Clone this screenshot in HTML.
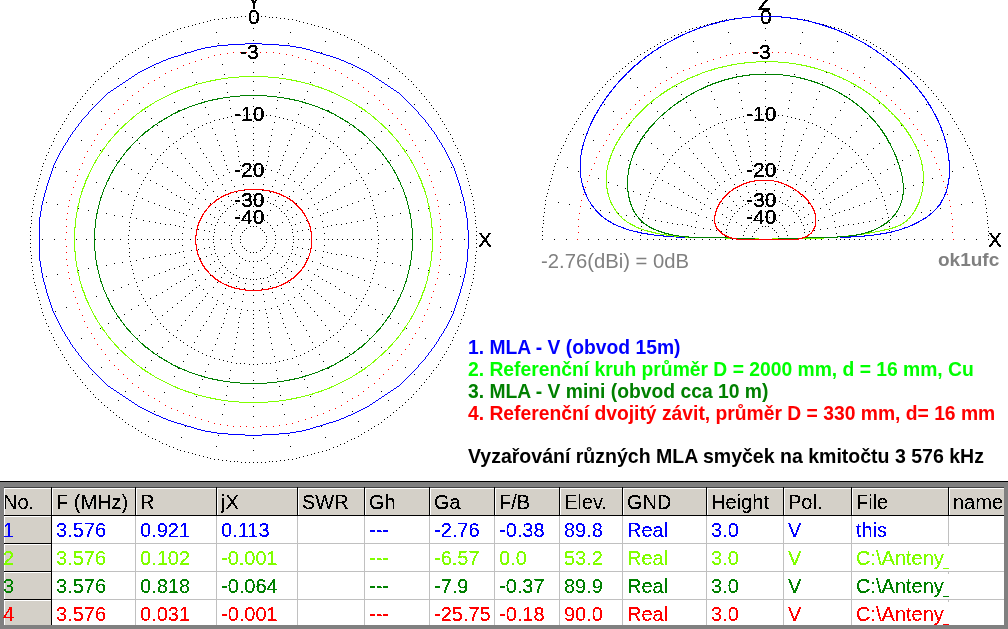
<!DOCTYPE html>
<html><head><meta charset="utf-8"><title>MLA</title>
<style>
html,body{margin:0;padding:0;background:#fff;}
body{width:1008px;height:629px;overflow:hidden;position:relative;font-family:"Liberation Sans",Arial,sans-serif;}
#tb div{position:absolute;}
.t{position:absolute;height:27px;font-size:20px;line-height:27px;white-space:nowrap;overflow:hidden;-webkit-text-stroke:0.1px currentColor;filter:url(#al);}
.lg{position:absolute;font-size:19.3px;font-weight:bold;line-height:22px;white-space:nowrap;}
svg{position:absolute;left:0;top:0;}
</style></head><body>
<svg width="1008" height="629" viewBox="0 0 1008 629">
<defs><filter id="al" x="0" y="0" width="100%" height="100%"><feComponentTransfer><feFuncA type="discrete" tableValues="0 1"/></feComponentTransfer></filter></defs>
<g shape-rendering="crispEdges">
<path fill="#000" d="M241 16h1v1h-1zM245 16h1v1h-1zM249 16h1v1h-1zM253 16h1v1h-1zM257 16h1v1h-1zM261 16h1v1h-1zM265 16h1v1h-1zM753 16h1v1h-1zM757 16h1v1h-1zM761 16h1v1h-1zM765 16h1v1h-1zM769 16h1v1h-1zM773 16h1v1h-1zM777 16h1v1h-1zM230 17h1v1h-1zM234 17h1v1h-1zM237 17h1v1h-1zM269 17h1v1h-1zM272 17h1v1h-1zM276 17h1v1h-1zM742 17h1v1h-1zM746 17h1v1h-1zM749 17h1v1h-1zM781 17h1v1h-1zM784 17h1v1h-1zM788 17h1v1h-1zM222 18h1v1h-1zM226 18h1v1h-1zM280 18h1v1h-1zM284 18h1v1h-1zM734 18h1v1h-1zM738 18h1v1h-1zM792 18h1v1h-1zM796 18h1v1h-1zM214 19h1v1h-1zM218 19h1v1h-1zM288 19h1v1h-1zM292 19h1v1h-1zM726 19h1v1h-1zM730 19h1v1h-1zM800 19h1v1h-1zM804 19h1v1h-1zM210 20h1v1h-1zM296 20h1v1h-1zM722 20h1v1h-1zM808 20h1v1h-1zM207 21h1v1h-1zM299 21h1v1h-1zM719 21h1v1h-1zM811 21h1v1h-1zM203 22h1v1h-1zM303 22h1v1h-1zM715 22h1v1h-1zM815 22h1v1h-1zM199 23h1v1h-1zM307 23h1v1h-1zM711 23h1v1h-1zM819 23h1v1h-1zM195 24h1v1h-1zM311 24h1v1h-1zM707 24h1v1h-1zM823 24h1v1h-1zM192 25h1v1h-1zM314 25h1v1h-1zM704 25h1v1h-1zM826 25h1v1h-1zM188 26h1v1h-1zM318 26h1v1h-1zM700 26h1v1h-1zM830 26h1v1h-1zM184 27h1v1h-1zM322 27h1v1h-1zM696 27h1v1h-1zM834 27h1v1h-1zM180 28h1v1h-1zM253 28h1v1h-1zM326 28h1v1h-1zM692 28h1v1h-1zM765 28h1v1h-1zM838 28h1v1h-1zM177 29h1v1h-1zM329 29h1v1h-1zM689 29h1v1h-1zM841 29h1v1h-1zM173 31h1v1h-1zM333 31h1v1h-1zM685 31h1v1h-1zM845 31h1v1h-1zM169 32h1v1h-1zM216 32h1v1h-1zM290 32h1v1h-1zM337 32h1v1h-1zM681 32h1v1h-1zM728 32h1v1h-1zM802 32h1v1h-1zM849 32h1v1h-1zM166 34h1v1h-1zM340 34h1v1h-1zM678 34h1v1h-1zM852 34h1v1h-1zM162 35h1v1h-1zM344 35h1v1h-1zM674 35h1v1h-1zM856 35h1v1h-1zM159 37h1v1h-1zM347 37h1v1h-1zM671 37h1v1h-1zM859 37h1v1h-1zM155 39h1v1h-1zM351 39h1v1h-1zM667 39h1v1h-1zM863 39h1v1h-1zM152 40h1v1h-1zM253 40h1v1h-1zM354 40h1v1h-1zM664 40h1v1h-1zM765 40h1v1h-1zM866 40h1v1h-1zM181 41h1v1h-1zM325 41h1v1h-1zM693 41h1v1h-1zM837 41h1v1h-1zM148 42h1v1h-1zM358 42h1v1h-1zM660 42h1v1h-1zM870 42h1v1h-1zM218 43h1v1h-1zM288 43h1v1h-1zM730 43h1v1h-1zM800 43h1v1h-1zM145 44h1v1h-1zM361 44h1v1h-1zM657 44h1v1h-1zM873 44h1v1h-1zM142 46h1v1h-1zM364 46h1v1h-1zM654 46h1v1h-1zM876 46h1v1h-1zM138 48h1v1h-1zM368 48h1v1h-1zM650 48h1v1h-1zM880 48h1v1h-1zM135 50h1v1h-1zM371 50h1v1h-1zM647 50h1v1h-1zM883 50h1v1h-1zM132 52h1v1h-1zM185 52h1v1h-1zM321 52h1v1h-1zM374 52h1v1h-1zM644 52h1v1h-1zM697 52h1v1h-1zM833 52h1v1h-1zM886 52h1v1h-1zM128 54h1v1h-1zM378 54h1v1h-1zM640 54h1v1h-1zM890 54h1v1h-1zM125 56h1v1h-1zM381 56h1v1h-1zM637 56h1v1h-1zM893 56h1v1h-1zM148 57h1v1h-1zM358 57h1v1h-1zM660 57h1v1h-1zM870 57h1v1h-1zM122 59h1v1h-1zM384 59h1v1h-1zM634 59h1v1h-1zM896 59h1v1h-1zM119 61h1v1h-1zM387 61h1v1h-1zM631 61h1v1h-1zM899 61h1v1h-1zM253 62h1v1h-1zM765 62h1v1h-1zM116 63h1v1h-1zM390 63h1v1h-1zM628 63h1v1h-1zM902 63h1v1h-1zM222 64h1v1h-1zM284 64h1v1h-1zM734 64h1v1h-1zM796 64h1v1h-1zM113 66h1v1h-1zM393 66h1v1h-1zM625 66h1v1h-1zM905 66h1v1h-1zM154 67h1v1h-1zM352 67h1v1h-1zM666 67h1v1h-1zM864 67h1v1h-1zM110 68h1v1h-1zM396 68h1v1h-1zM622 68h1v1h-1zM908 68h1v1h-1zM107 71h1v1h-1zM399 71h1v1h-1zM619 71h1v1h-1zM911 71h1v1h-1zM192 72h1v1h-1zM253 72h1v1h-1zM314 72h1v1h-1zM704 72h1v1h-1zM765 72h1v1h-1zM826 72h1v1h-1zM104 73h1v1h-1zM402 73h1v1h-1zM616 73h1v1h-1zM914 73h1v1h-1zM224 74h1v1h-1zM282 74h1v1h-1zM736 74h1v1h-1zM794 74h1v1h-1zM101 76h1v1h-1zM405 76h1v1h-1zM613 76h1v1h-1zM917 76h1v1h-1zM118 78h1v1h-1zM388 78h1v1h-1zM630 78h1v1h-1zM900 78h1v1h-1zM98 79h1v1h-1zM408 79h1v1h-1zM610 79h1v1h-1zM920 79h1v1h-1zM95 81h1v1h-1zM253 81h1v1h-1zM411 81h1v1h-1zM607 81h1v1h-1zM765 81h1v1h-1zM923 81h1v1h-1zM196 82h1v1h-1zM310 82h1v1h-1zM708 82h1v1h-1zM822 82h1v1h-1zM226 83h1v1h-1zM280 83h1v1h-1zM738 83h1v1h-1zM792 83h1v1h-1zM93 84h1v1h-1zM413 84h1v1h-1zM605 84h1v1h-1zM925 84h1v1h-1zM164 86h1v1h-1zM342 86h1v1h-1zM676 86h1v1h-1zM854 86h1v1h-1zM90 87h1v1h-1zM125 87h1v1h-1zM381 87h1v1h-1zM416 87h1v1h-1zM602 87h1v1h-1zM637 87h1v1h-1zM893 87h1v1h-1zM928 87h1v1h-1zM87 90h1v1h-1zM253 90h1v1h-1zM419 90h1v1h-1zM599 90h1v1h-1zM765 90h1v1h-1zM931 90h1v1h-1zM199 91h1v1h-1zM307 91h1v1h-1zM711 91h1v1h-1zM819 91h1v1h-1zM227 92h1v1h-1zM279 92h1v1h-1zM739 92h1v1h-1zM791 92h1v1h-1zM85 93h1v1h-1zM421 93h1v1h-1zM597 93h1v1h-1zM933 93h1v1h-1zM169 94h1v1h-1zM337 94h1v1h-1zM681 94h1v1h-1zM849 94h1v1h-1zM82 96h1v1h-1zM424 96h1v1h-1zM594 96h1v1h-1zM936 96h1v1h-1zM253 98h1v1h-1zM765 98h1v1h-1zM80 99h1v1h-1zM202 99h1v1h-1zM304 99h1v1h-1zM426 99h1v1h-1zM592 99h1v1h-1zM714 99h1v1h-1zM816 99h1v1h-1zM938 99h1v1h-1zM229 100h1v1h-1zM277 100h1v1h-1zM741 100h1v1h-1zM789 100h1v1h-1zM77 102h1v1h-1zM174 102h1v1h-1zM332 102h1v1h-1zM429 102h1v1h-1zM589 102h1v1h-1zM686 102h1v1h-1zM844 102h1v1h-1zM941 102h1v1h-1zM139 103h1v1h-1zM367 103h1v1h-1zM651 103h1v1h-1zM879 103h1v1h-1zM92 104h1v1h-1zM414 104h1v1h-1zM604 104h1v1h-1zM926 104h1v1h-1zM75 105h1v1h-1zM431 105h1v1h-1zM587 105h1v1h-1zM943 105h1v1h-1zM253 106h1v1h-1zM765 106h1v1h-1zM205 107h1v1h-1zM301 107h1v1h-1zM717 107h1v1h-1zM813 107h1v1h-1zM73 108h1v1h-1zM230 108h1v1h-1zM276 108h1v1h-1zM433 108h1v1h-1zM585 108h1v1h-1zM742 108h1v1h-1zM788 108h1v1h-1zM945 108h1v1h-1zM178 110h1v1h-1zM328 110h1v1h-1zM690 110h1v1h-1zM840 110h1v1h-1zM70 111h1v1h-1zM101 111h1v1h-1zM145 111h1v1h-1zM361 111h1v1h-1zM405 111h1v1h-1zM436 111h1v1h-1zM582 111h1v1h-1zM613 111h1v1h-1zM657 111h1v1h-1zM873 111h1v1h-1zM917 111h1v1h-1zM948 111h1v1h-1zM68 114h1v1h-1zM208 114h1v1h-1zM249 114h1v1h-1zM253 114h1v1h-1zM257 114h1v1h-1zM298 114h1v1h-1zM438 114h1v1h-1zM580 114h1v1h-1zM720 114h1v1h-1zM761 114h1v1h-1zM765 114h1v1h-1zM769 114h1v1h-1zM810 114h1v1h-1zM950 114h1v1h-1zM236 115h1v1h-1zM240 115h1v1h-1zM244 115h1v1h-1zM262 115h1v1h-1zM266 115h1v1h-1zM270 115h1v1h-1zM748 115h1v1h-1zM752 115h1v1h-1zM756 115h1v1h-1zM774 115h1v1h-1zM778 115h1v1h-1zM782 115h1v1h-1zM231 116h1v1h-1zM275 116h1v1h-1zM743 116h1v1h-1zM787 116h1v1h-1zM183 117h1v1h-1zM227 117h1v1h-1zM279 117h1v1h-1zM323 117h1v1h-1zM695 117h1v1h-1zM739 117h1v1h-1zM791 117h1v1h-1zM835 117h1v1h-1zM66 118h1v1h-1zM151 118h1v1h-1zM223 118h1v1h-1zM283 118h1v1h-1zM355 118h1v1h-1zM440 118h1v1h-1zM578 118h1v1h-1zM663 118h1v1h-1zM735 118h1v1h-1zM795 118h1v1h-1zM867 118h1v1h-1zM952 118h1v1h-1zM219 119h1v1h-1zM287 119h1v1h-1zM731 119h1v1h-1zM799 119h1v1h-1zM214 120h1v1h-1zM292 120h1v1h-1zM726 120h1v1h-1zM804 120h1v1h-1zM64 121h1v1h-1zM253 121h1v1h-1zM442 121h1v1h-1zM576 121h1v1h-1zM765 121h1v1h-1zM954 121h1v1h-1zM210 122h1v1h-1zM232 122h1v1h-1zM274 122h1v1h-1zM296 122h1v1h-1zM722 122h1v1h-1zM744 122h1v1h-1zM786 122h1v1h-1zM808 122h1v1h-1zM206 123h1v1h-1zM300 123h1v1h-1zM718 123h1v1h-1zM812 123h1v1h-1zM62 124h1v1h-1zM187 124h1v1h-1zM319 124h1v1h-1zM444 124h1v1h-1zM574 124h1v1h-1zM699 124h1v1h-1zM831 124h1v1h-1zM956 124h1v1h-1zM117 125h1v1h-1zM157 125h1v1h-1zM202 125h1v1h-1zM304 125h1v1h-1zM349 125h1v1h-1zM389 125h1v1h-1zM629 125h1v1h-1zM669 125h1v1h-1zM714 125h1v1h-1zM816 125h1v1h-1zM861 125h1v1h-1zM901 125h1v1h-1zM198 127h1v1h-1zM253 127h1v1h-1zM308 127h1v1h-1zM710 127h1v1h-1zM765 127h1v1h-1zM820 127h1v1h-1zM60 128h1v1h-1zM212 128h1v1h-1zM294 128h1v1h-1zM446 128h1v1h-1zM572 128h1v1h-1zM724 128h1v1h-1zM806 128h1v1h-1zM958 128h1v1h-1zM194 129h1v1h-1zM234 129h1v1h-1zM272 129h1v1h-1zM312 129h1v1h-1zM706 129h1v1h-1zM746 129h1v1h-1zM784 129h1v1h-1zM824 129h1v1h-1zM58 131h1v1h-1zM125 131h1v1h-1zM162 131h1v1h-1zM191 131h1v1h-1zM315 131h1v1h-1zM344 131h1v1h-1zM381 131h1v1h-1zM448 131h1v1h-1zM570 131h1v1h-1zM637 131h1v1h-1zM674 131h1v1h-1zM703 131h1v1h-1zM827 131h1v1h-1zM856 131h1v1h-1zM893 131h1v1h-1zM960 131h1v1h-1zM187 133h1v1h-1zM253 133h1v1h-1zM319 133h1v1h-1zM699 133h1v1h-1zM765 133h1v1h-1zM831 133h1v1h-1zM56 134h1v1h-1zM71 134h1v1h-1zM215 134h1v1h-1zM291 134h1v1h-1zM435 134h1v1h-1zM450 134h1v1h-1zM568 134h1v1h-1zM583 134h1v1h-1zM727 134h1v1h-1zM803 134h1v1h-1zM947 134h1v1h-1zM962 134h1v1h-1zM235 135h1v1h-1zM271 135h1v1h-1zM747 135h1v1h-1zM783 135h1v1h-1zM183 136h1v1h-1zM194 136h1v1h-1zM312 136h1v1h-1zM323 136h1v1h-1zM695 136h1v1h-1zM706 136h1v1h-1zM824 136h1v1h-1zM835 136h1v1h-1zM132 137h1v1h-1zM168 137h1v1h-1zM338 137h1v1h-1zM374 137h1v1h-1zM644 137h1v1h-1zM680 137h1v1h-1zM850 137h1v1h-1zM886 137h1v1h-1zM54 138h1v1h-1zM180 138h1v1h-1zM326 138h1v1h-1zM452 138h1v1h-1zM566 138h1v1h-1zM692 138h1v1h-1zM838 138h1v1h-1zM964 138h1v1h-1zM253 139h1v1h-1zM765 139h1v1h-1zM81 140h1v1h-1zM217 140h1v1h-1zM289 140h1v1h-1zM425 140h1v1h-1zM593 140h1v1h-1zM729 140h1v1h-1zM801 140h1v1h-1zM937 140h1v1h-1zM53 141h1v1h-1zM176 141h1v1h-1zM236 141h1v1h-1zM270 141h1v1h-1zM330 141h1v1h-1zM453 141h1v1h-1zM565 141h1v1h-1zM688 141h1v1h-1zM748 141h1v1h-1zM782 141h1v1h-1zM842 141h1v1h-1zM965 141h1v1h-1zM197 142h1v1h-1zM309 142h1v1h-1zM709 142h1v1h-1zM821 142h1v1h-1zM139 143h1v1h-1zM173 143h1v1h-1zM333 143h1v1h-1zM367 143h1v1h-1zM651 143h1v1h-1zM685 143h1v1h-1zM845 143h1v1h-1zM879 143h1v1h-1zM51 145h1v1h-1zM219 145h1v1h-1zM253 145h1v1h-1zM287 145h1v1h-1zM455 145h1v1h-1zM563 145h1v1h-1zM731 145h1v1h-1zM765 145h1v1h-1zM799 145h1v1h-1zM967 145h1v1h-1zM169 146h1v1h-1zM237 146h1v1h-1zM269 146h1v1h-1zM337 146h1v1h-1zM681 146h1v1h-1zM749 146h1v1h-1zM781 146h1v1h-1zM849 146h1v1h-1zM49 148h1v1h-1zM145 148h1v1h-1zM177 148h1v1h-1zM200 148h1v1h-1zM306 148h1v1h-1zM329 148h1v1h-1zM361 148h1v1h-1zM457 148h1v1h-1zM561 148h1v1h-1zM657 148h1v1h-1zM689 148h1v1h-1zM712 148h1v1h-1zM818 148h1v1h-1zM841 148h1v1h-1zM873 148h1v1h-1zM969 148h1v1h-1zM166 149h1v1h-1zM340 149h1v1h-1zM678 149h1v1h-1zM852 149h1v1h-1zM100 150h1v1h-1zM253 150h1v1h-1zM406 150h1v1h-1zM612 150h1v1h-1zM765 150h1v1h-1zM918 150h1v1h-1zM221 151h1v1h-1zM238 151h1v1h-1zM268 151h1v1h-1zM285 151h1v1h-1zM733 151h1v1h-1zM750 151h1v1h-1zM780 151h1v1h-1zM797 151h1v1h-1zM48 152h1v1h-1zM163 152h1v1h-1zM343 152h1v1h-1zM458 152h1v1h-1zM560 152h1v1h-1zM675 152h1v1h-1zM855 152h1v1h-1zM970 152h1v1h-1zM181 153h1v1h-1zM203 153h1v1h-1zM303 153h1v1h-1zM325 153h1v1h-1zM693 153h1v1h-1zM715 153h1v1h-1zM815 153h1v1h-1zM837 153h1v1h-1zM151 154h1v1h-1zM355 154h1v1h-1zM663 154h1v1h-1zM867 154h1v1h-1zM46 155h1v1h-1zM108 155h1v1h-1zM160 155h1v1h-1zM223 155h1v1h-1zM253 155h1v1h-1zM283 155h1v1h-1zM346 155h1v1h-1zM398 155h1v1h-1zM460 155h1v1h-1zM558 155h1v1h-1zM620 155h1v1h-1zM672 155h1v1h-1zM735 155h1v1h-1zM765 155h1v1h-1zM795 155h1v1h-1zM858 155h1v1h-1zM910 155h1v1h-1zM972 155h1v1h-1zM238 156h1v1h-1zM268 156h1v1h-1zM750 156h1v1h-1zM780 156h1v1h-1zM206 157h1v1h-1zM300 157h1v1h-1zM718 157h1v1h-1zM812 157h1v1h-1zM185 158h1v1h-1zM321 158h1v1h-1zM697 158h1v1h-1zM833 158h1v1h-1zM45 159h1v1h-1zM157 159h1v1h-1zM349 159h1v1h-1zM461 159h1v1h-1zM557 159h1v1h-1zM669 159h1v1h-1zM861 159h1v1h-1zM973 159h1v1h-1zM116 160h1v1h-1zM224 160h1v1h-1zM253 160h1v1h-1zM282 160h1v1h-1zM390 160h1v1h-1zM628 160h1v1h-1zM736 160h1v1h-1zM765 160h1v1h-1zM794 160h1v1h-1zM902 160h1v1h-1zM239 161h1v1h-1zM267 161h1v1h-1zM751 161h1v1h-1zM779 161h1v1h-1zM155 162h1v1h-1zM209 162h1v1h-1zM297 162h1v1h-1zM351 162h1v1h-1zM667 162h1v1h-1zM721 162h1v1h-1zM809 162h1v1h-1zM863 162h1v1h-1zM43 163h1v1h-1zM162 163h1v1h-1zM189 163h1v1h-1zM317 163h1v1h-1zM344 163h1v1h-1zM463 163h1v1h-1zM555 163h1v1h-1zM674 163h1v1h-1zM701 163h1v1h-1zM829 163h1v1h-1zM856 163h1v1h-1zM975 163h1v1h-1zM124 164h1v1h-1zM253 164h1v1h-1zM382 164h1v1h-1zM636 164h1v1h-1zM765 164h1v1h-1zM894 164h1v1h-1zM226 165h1v1h-1zM240 165h1v1h-1zM266 165h1v1h-1zM280 165h1v1h-1zM738 165h1v1h-1zM752 165h1v1h-1zM778 165h1v1h-1zM792 165h1v1h-1zM42 166h1v1h-1zM152 166h1v1h-1zM211 166h1v1h-1zM295 166h1v1h-1zM354 166h1v1h-1zM464 166h1v1h-1zM554 166h1v1h-1zM664 166h1v1h-1zM723 166h1v1h-1zM807 166h1v1h-1zM866 166h1v1h-1zM976 166h1v1h-1zM55 167h1v1h-1zM167 167h1v1h-1zM192 167h1v1h-1zM314 167h1v1h-1zM339 167h1v1h-1zM451 167h1v1h-1zM567 167h1v1h-1zM679 167h1v1h-1zM704 167h1v1h-1zM826 167h1v1h-1zM851 167h1v1h-1zM963 167h1v1h-1zM247 168h1v1h-1zM253 168h1v1h-1zM259 168h1v1h-1zM759 168h1v1h-1zM765 168h1v1h-1zM771 168h1v1h-1zM131 169h1v1h-1zM150 169h1v1h-1zM227 169h1v1h-1zM241 169h1v1h-1zM265 169h1v1h-1zM279 169h1v1h-1zM356 169h1v1h-1zM375 169h1v1h-1zM643 169h1v1h-1zM662 169h1v1h-1zM739 169h1v1h-1zM753 169h1v1h-1zM777 169h1v1h-1zM791 169h1v1h-1zM868 169h1v1h-1zM887 169h1v1h-1zM41 170h1v1h-1zM213 170h1v1h-1zM235 170h1v1h-1zM271 170h1v1h-1zM293 170h1v1h-1zM465 170h1v1h-1zM553 170h1v1h-1zM725 170h1v1h-1zM747 170h1v1h-1zM783 170h1v1h-1zM805 170h1v1h-1zM977 170h1v1h-1zM66 171h1v1h-1zM172 171h1v1h-1zM196 171h1v1h-1zM310 171h1v1h-1zM334 171h1v1h-1zM440 171h1v1h-1zM578 171h1v1h-1zM684 171h1v1h-1zM708 171h1v1h-1zM822 171h1v1h-1zM846 171h1v1h-1zM952 171h1v1h-1zM229 172h1v1h-1zM277 172h1v1h-1zM741 172h1v1h-1zM789 172h1v1h-1zM138 173h1v1h-1zM147 173h1v1h-1zM359 173h1v1h-1zM368 173h1v1h-1zM650 173h1v1h-1zM659 173h1v1h-1zM871 173h1v1h-1zM880 173h1v1h-1zM40 174h1v1h-1zM216 174h1v1h-1zM290 174h1v1h-1zM466 174h1v1h-1zM552 174h1v1h-1zM728 174h1v1h-1zM802 174h1v1h-1zM978 174h1v1h-1zM177 175h1v1h-1zM199 175h1v1h-1zM223 175h1v1h-1zM283 175h1v1h-1zM307 175h1v1h-1zM329 175h1v1h-1zM689 175h1v1h-1zM711 175h1v1h-1zM735 175h1v1h-1zM795 175h1v1h-1zM819 175h1v1h-1zM841 175h1v1h-1zM253 176h1v1h-1zM765 176h1v1h-1zM145 177h1v1h-1zM242 177h1v1h-1zM264 177h1v1h-1zM361 177h1v1h-1zM657 177h1v1h-1zM754 177h1v1h-1zM776 177h1v1h-1zM873 177h1v1h-1zM39 178h1v1h-1zM86 178h1v1h-1zM181 178h1v1h-1zM202 178h1v1h-1zM218 178h1v1h-1zM288 178h1v1h-1zM304 178h1v1h-1zM325 178h1v1h-1zM420 178h1v1h-1zM467 178h1v1h-1zM551 178h1v1h-1zM598 178h1v1h-1zM693 178h1v1h-1zM714 178h1v1h-1zM730 178h1v1h-1zM800 178h1v1h-1zM816 178h1v1h-1zM837 178h1v1h-1zM932 178h1v1h-1zM979 178h1v1h-1zM143 180h1v1h-1zM150 180h1v1h-1zM231 180h1v1h-1zM275 180h1v1h-1zM356 180h1v1h-1zM363 180h1v1h-1zM655 180h1v1h-1zM662 180h1v1h-1zM743 180h1v1h-1zM787 180h1v1h-1zM868 180h1v1h-1zM875 180h1v1h-1zM38 181h1v1h-1zM212 181h1v1h-1zM294 181h1v1h-1zM468 181h1v1h-1zM550 181h1v1h-1zM724 181h1v1h-1zM806 181h1v1h-1zM980 181h1v1h-1zM96 182h1v1h-1zM185 182h1v1h-1zM205 182h1v1h-1zM301 182h1v1h-1zM321 182h1v1h-1zM410 182h1v1h-1zM608 182h1v1h-1zM697 182h1v1h-1zM717 182h1v1h-1zM813 182h1v1h-1zM833 182h1v1h-1zM922 182h1v1h-1zM156 183h1v1h-1zM253 183h1v1h-1zM350 183h1v1h-1zM668 183h1v1h-1zM765 183h1v1h-1zM862 183h1v1h-1zM141 184h1v1h-1zM222 184h1v1h-1zM243 184h1v1h-1zM263 184h1v1h-1zM284 184h1v1h-1zM365 184h1v1h-1zM653 184h1v1h-1zM734 184h1v1h-1zM755 184h1v1h-1zM775 184h1v1h-1zM796 184h1v1h-1zM877 184h1v1h-1zM37 185h1v1h-1zM105 185h1v1h-1zM189 185h1v1h-1zM207 185h1v1h-1zM299 185h1v1h-1zM317 185h1v1h-1zM401 185h1v1h-1zM469 185h1v1h-1zM549 185h1v1h-1zM617 185h1v1h-1zM701 185h1v1h-1zM719 185h1v1h-1zM811 185h1v1h-1zM829 185h1v1h-1zM913 185h1v1h-1zM981 185h1v1h-1zM162 186h1v1h-1zM234 186h1v1h-1zM272 186h1v1h-1zM344 186h1v1h-1zM674 186h1v1h-1zM746 186h1v1h-1zM784 186h1v1h-1zM856 186h1v1h-1zM113 188h1v1h-1zM139 188h1v1h-1zM192 188h1v1h-1zM314 188h1v1h-1zM367 188h1v1h-1zM393 188h1v1h-1zM625 188h1v1h-1zM651 188h1v1h-1zM704 188h1v1h-1zM826 188h1v1h-1zM879 188h1v1h-1zM905 188h1v1h-1zM36 189h1v1h-1zM167 189h1v1h-1zM203 189h1v1h-1zM253 189h1v1h-1zM303 189h1v1h-1zM339 189h1v1h-1zM470 189h1v1h-1zM548 189h1v1h-1zM679 189h1v1h-1zM715 189h1v1h-1zM765 189h1v1h-1zM815 189h1v1h-1zM851 189h1v1h-1zM982 189h1v1h-1zM225 190h1v1h-1zM244 190h1v1h-1zM262 190h1v1h-1zM281 190h1v1h-1zM737 190h1v1h-1zM756 190h1v1h-1zM774 190h1v1h-1zM793 190h1v1h-1zM121 191h1v1h-1zM196 191h1v1h-1zM213 191h1v1h-1zM293 191h1v1h-1zM310 191h1v1h-1zM385 191h1v1h-1zM633 191h1v1h-1zM708 191h1v1h-1zM725 191h1v1h-1zM805 191h1v1h-1zM822 191h1v1h-1zM897 191h1v1h-1zM137 192h1v1h-1zM171 192h1v1h-1zM236 192h1v1h-1zM270 192h1v1h-1zM335 192h1v1h-1zM369 192h1v1h-1zM649 192h1v1h-1zM683 192h1v1h-1zM748 192h1v1h-1zM782 192h1v1h-1zM847 192h1v1h-1zM881 192h1v1h-1zM35 193h1v1h-1zM199 193h1v1h-1zM307 193h1v1h-1zM471 193h1v1h-1zM547 193h1v1h-1zM711 193h1v1h-1zM819 193h1v1h-1zM983 193h1v1h-1zM128 194h1v1h-1zM253 194h1v1h-1zM378 194h1v1h-1zM640 194h1v1h-1zM765 194h1v1h-1zM890 194h1v1h-1zM176 195h1v1h-1zM245 195h1v1h-1zM261 195h1v1h-1zM330 195h1v1h-1zM688 195h1v1h-1zM757 195h1v1h-1zM773 195h1v1h-1zM842 195h1v1h-1zM34 196h1v1h-1zM136 196h1v1h-1zM217 196h1v1h-1zM228 196h1v1h-1zM278 196h1v1h-1zM289 196h1v1h-1zM370 196h1v1h-1zM472 196h1v1h-1zM546 196h1v1h-1zM648 196h1v1h-1zM729 196h1v1h-1zM740 196h1v1h-1zM790 196h1v1h-1zM801 196h1v1h-1zM882 196h1v1h-1zM984 196h1v1h-1zM180 197h1v1h-1zM238 197h1v1h-1zM268 197h1v1h-1zM326 197h1v1h-1zM692 197h1v1h-1zM750 197h1v1h-1zM780 197h1v1h-1zM838 197h1v1h-1zM142 198h1v1h-1zM195 198h1v1h-1zM311 198h1v1h-1zM364 198h1v1h-1zM654 198h1v1h-1zM707 198h1v1h-1zM823 198h1v1h-1zM876 198h1v1h-1zM184 199h1v1h-1zM205 199h1v1h-1zM250 199h1v1h-1zM253 199h1v1h-1zM256 199h1v1h-1zM301 199h1v1h-1zM322 199h1v1h-1zM696 199h1v1h-1zM717 199h1v1h-1zM762 199h1v1h-1zM765 199h1v1h-1zM768 199h1v1h-1zM813 199h1v1h-1zM834 199h1v1h-1zM33 200h1v1h-1zM134 200h1v1h-1zM231 200h1v1h-1zM243 200h1v1h-1zM246 200h1v1h-1zM260 200h1v1h-1zM263 200h1v1h-1zM275 200h1v1h-1zM372 200h1v1h-1zM473 200h1v1h-1zM545 200h1v1h-1zM646 200h1v1h-1zM743 200h1v1h-1zM755 200h1v1h-1zM758 200h1v1h-1zM772 200h1v1h-1zM775 200h1v1h-1zM787 200h1v1h-1zM884 200h1v1h-1zM985 200h1v1h-1zM148 201h1v1h-1zM221 201h1v1h-1zM239 201h1v1h-1zM267 201h1v1h-1zM285 201h1v1h-1zM358 201h1v1h-1zM660 201h1v1h-1zM733 201h1v1h-1zM751 201h1v1h-1zM779 201h1v1h-1zM797 201h1v1h-1zM870 201h1v1h-1zM46 202h1v1h-1zM188 202h1v1h-1zM318 202h1v1h-1zM460 202h1v1h-1zM558 202h1v1h-1zM700 202h1v1h-1zM830 202h1v1h-1zM972 202h1v1h-1zM154 203h1v1h-1zM210 203h1v1h-1zM236 203h1v1h-1zM270 203h1v1h-1zM296 203h1v1h-1zM352 203h1v1h-1zM666 203h1v1h-1zM722 203h1v1h-1zM748 203h1v1h-1zM782 203h1v1h-1zM808 203h1v1h-1zM864 203h1v1h-1zM33 204h1v1h-1zM57 204h1v1h-1zM192 204h1v1h-1zM233 204h1v1h-1zM273 204h1v1h-1zM314 204h1v1h-1zM449 204h1v1h-1zM473 204h1v1h-1zM545 204h1v1h-1zM569 204h1v1h-1zM704 204h1v1h-1zM745 204h1v1h-1zM785 204h1v1h-1zM826 204h1v1h-1zM961 204h1v1h-1zM985 204h1v1h-1zM133 205h1v1h-1zM159 205h1v1h-1zM224 205h1v1h-1zM282 205h1v1h-1zM347 205h1v1h-1zM373 205h1v1h-1zM645 205h1v1h-1zM671 205h1v1h-1zM736 205h1v1h-1zM794 205h1v1h-1zM859 205h1v1h-1zM885 205h1v1h-1zM230 206h1v1h-1zM253 206h1v1h-1zM276 206h1v1h-1zM742 206h1v1h-1zM765 206h1v1h-1zM788 206h1v1h-1zM165 207h1v1h-1zM215 207h1v1h-1zM291 207h1v1h-1zM341 207h1v1h-1zM677 207h1v1h-1zM727 207h1v1h-1zM803 207h1v1h-1zM853 207h1v1h-1zM32 208h1v1h-1zM78 208h1v1h-1zM198 208h1v1h-1zM227 208h1v1h-1zM279 208h1v1h-1zM308 208h1v1h-1zM428 208h1v1h-1zM474 208h1v1h-1zM544 208h1v1h-1zM590 208h1v1h-1zM710 208h1v1h-1zM739 208h1v1h-1zM791 208h1v1h-1zM820 208h1v1h-1zM940 208h1v1h-1zM986 208h1v1h-1zM132 209h1v1h-1zM169 209h1v1h-1zM189 209h1v1h-1zM317 209h1v1h-1zM337 209h1v1h-1zM374 209h1v1h-1zM644 209h1v1h-1zM681 209h1v1h-1zM701 209h1v1h-1zM829 209h1v1h-1zM849 209h1v1h-1zM886 209h1v1h-1zM88 210h1v1h-1zM174 210h1v1h-1zM219 210h1v1h-1zM236 210h1v1h-1zM270 210h1v1h-1zM287 210h1v1h-1zM332 210h1v1h-1zM418 210h1v1h-1zM600 210h1v1h-1zM686 210h1v1h-1zM731 210h1v1h-1zM748 210h1v1h-1zM782 210h1v1h-1zM799 210h1v1h-1zM844 210h1v1h-1zM930 210h1v1h-1zM204 211h1v1h-1zM225 211h1v1h-1zM253 211h1v1h-1zM281 211h1v1h-1zM302 211h1v1h-1zM716 211h1v1h-1zM737 211h1v1h-1zM765 211h1v1h-1zM793 211h1v1h-1zM814 211h1v1h-1zM32 212h1v1h-1zM97 212h1v1h-1zM179 212h1v1h-1zM327 212h1v1h-1zM409 212h1v1h-1zM474 212h1v1h-1zM544 212h1v1h-1zM609 212h1v1h-1zM691 212h1v1h-1zM839 212h1v1h-1zM921 212h1v1h-1zM986 212h1v1h-1zM106 213h1v1h-1zM131 213h1v1h-1zM183 213h1v1h-1zM222 213h1v1h-1zM284 213h1v1h-1zM323 213h1v1h-1zM375 213h1v1h-1zM400 213h1v1h-1zM618 213h1v1h-1zM643 213h1v1h-1zM695 213h1v1h-1zM734 213h1v1h-1zM796 213h1v1h-1zM835 213h1v1h-1zM887 213h1v1h-1zM912 213h1v1h-1zM210 214h1v1h-1zM296 214h1v1h-1zM722 214h1v1h-1zM808 214h1v1h-1zM114 215h1v1h-1zM186 215h1v1h-1zM239 215h1v1h-1zM267 215h1v1h-1zM320 215h1v1h-1zM392 215h1v1h-1zM626 215h1v1h-1zM698 215h1v1h-1zM751 215h1v1h-1zM779 215h1v1h-1zM832 215h1v1h-1zM904 215h1v1h-1zM31 216h1v1h-1zM122 216h1v1h-1zM220 216h1v1h-1zM286 216h1v1h-1zM384 216h1v1h-1zM475 216h1v1h-1zM543 216h1v1h-1zM634 216h1v1h-1zM732 216h1v1h-1zM798 216h1v1h-1zM896 216h1v1h-1zM987 216h1v1h-1zM130 217h1v1h-1zM194 217h1v1h-1zM214 217h1v1h-1zM249 217h1v1h-1zM253 217h1v1h-1zM257 217h1v1h-1zM292 217h1v1h-1zM312 217h1v1h-1zM376 217h1v1h-1zM642 217h1v1h-1zM706 217h1v1h-1zM726 217h1v1h-1zM761 217h1v1h-1zM765 217h1v1h-1zM769 217h1v1h-1zM804 217h1v1h-1zM824 217h1v1h-1zM888 217h1v1h-1zM136 218h1v1h-1zM245 218h1v1h-1zM261 218h1v1h-1zM370 218h1v1h-1zM648 218h1v1h-1zM757 218h1v1h-1zM773 218h1v1h-1zM882 218h1v1h-1zM218 219h1v1h-1zM288 219h1v1h-1zM730 219h1v1h-1zM800 219h1v1h-1zM31 220h1v1h-1zM143 220h1v1h-1zM200 220h1v1h-1zM242 220h1v1h-1zM264 220h1v1h-1zM306 220h1v1h-1zM363 220h1v1h-1zM475 220h1v1h-1zM543 220h1v1h-1zM655 220h1v1h-1zM712 220h1v1h-1zM754 220h1v1h-1zM776 220h1v1h-1zM818 220h1v1h-1zM875 220h1v1h-1zM987 220h1v1h-1zM149 221h1v1h-1zM184 221h1v1h-1zM322 221h1v1h-1zM357 221h1v1h-1zM661 221h1v1h-1zM696 221h1v1h-1zM834 221h1v1h-1zM869 221h1v1h-1zM129 222h1v1h-1zM155 222h1v1h-1zM206 222h1v1h-1zM217 222h1v1h-1zM224 222h1v1h-1zM239 222h1v1h-1zM267 222h1v1h-1zM282 222h1v1h-1zM289 222h1v1h-1zM300 222h1v1h-1zM351 222h1v1h-1zM377 222h1v1h-1zM641 222h1v1h-1zM667 222h1v1h-1zM718 222h1v1h-1zM729 222h1v1h-1zM736 222h1v1h-1zM751 222h1v1h-1zM779 222h1v1h-1zM794 222h1v1h-1zM801 222h1v1h-1zM812 222h1v1h-1zM863 222h1v1h-1zM889 222h1v1h-1zM31 223h1v1h-1zM160 223h1v1h-1zM346 223h1v1h-1zM475 223h1v1h-1zM543 223h1v1h-1zM672 223h1v1h-1zM858 223h1v1h-1zM987 223h1v1h-1zM165 224h1v1h-1zM170 224h1v1h-1zM211 224h1v1h-1zM295 224h1v1h-1zM336 224h1v1h-1zM341 224h1v1h-1zM677 224h1v1h-1zM682 224h1v1h-1zM723 224h1v1h-1zM807 224h1v1h-1zM848 224h1v1h-1zM853 224h1v1h-1zM175 225h1v1h-1zM215 225h1v1h-1zM229 225h1v1h-1zM236 225h1v1h-1zM270 225h1v1h-1zM277 225h1v1h-1zM291 225h1v1h-1zM331 225h1v1h-1zM687 225h1v1h-1zM727 225h1v1h-1zM741 225h1v1h-1zM748 225h1v1h-1zM782 225h1v1h-1zM789 225h1v1h-1zM803 225h1v1h-1zM843 225h1v1h-1zM129 226h1v1h-1zM179 226h1v1h-1zM250 226h1v1h-1zM253 226h1v1h-1zM256 226h1v1h-1zM327 226h1v1h-1zM377 226h1v1h-1zM641 226h1v1h-1zM691 226h1v1h-1zM762 226h1v1h-1zM765 226h1v1h-1zM768 226h1v1h-1zM839 226h1v1h-1zM889 226h1v1h-1zM30 227h1v1h-1zM183 227h1v1h-1zM323 227h1v1h-1zM476 227h1v1h-1zM542 227h1v1h-1zM695 227h1v1h-1zM835 227h1v1h-1zM988 227h1v1h-1zM191 228h1v1h-1zM234 228h1v1h-1zM246 228h1v1h-1zM260 228h1v1h-1zM272 228h1v1h-1zM315 228h1v1h-1zM703 228h1v1h-1zM746 228h1v1h-1zM758 228h1v1h-1zM772 228h1v1h-1zM784 228h1v1h-1zM827 228h1v1h-1zM198 229h1v1h-1zM214 229h1v1h-1zM292 229h1v1h-1zM308 229h1v1h-1zM710 229h1v1h-1zM726 229h1v1h-1zM804 229h1v1h-1zM820 229h1v1h-1zM129 230h1v1h-1zM204 230h1v1h-1zM244 230h1v1h-1zM262 230h1v1h-1zM302 230h1v1h-1zM377 230h1v1h-1zM641 230h1v1h-1zM716 230h1v1h-1zM756 230h1v1h-1zM774 230h1v1h-1zM814 230h1v1h-1zM889 230h1v1h-1zM30 231h1v1h-1zM209 231h1v1h-1zM232 231h1v1h-1zM274 231h1v1h-1zM297 231h1v1h-1zM476 231h1v1h-1zM542 231h1v1h-1zM721 231h1v1h-1zM744 231h1v1h-1zM786 231h1v1h-1zM809 231h1v1h-1zM988 231h1v1h-1zM214 232h1v1h-1zM242 232h1v1h-1zM264 232h1v1h-1zM292 232h1v1h-1zM726 232h1v1h-1zM754 232h1v1h-1zM776 232h1v1h-1zM804 232h1v1h-1zM182 233h1v1h-1zM324 233h1v1h-1zM694 233h1v1h-1zM836 233h1v1h-1zM30 235h1v1h-1zM128 235h1v1h-1zM231 235h1v1h-1zM275 235h1v1h-1zM378 235h1v1h-1zM476 235h1v1h-1zM542 235h1v1h-1zM640 235h1v1h-1zM743 235h1v1h-1zM787 235h1v1h-1zM890 235h1v1h-1zM988 235h1v1h-1zM213 236h1v1h-1zM240 236h1v1h-1zM266 236h1v1h-1zM293 236h1v1h-1zM725 236h1v1h-1zM752 236h1v1h-1zM778 236h1v1h-1zM805 236h1v1h-1zM30 239h1v1h-1zM42 239h1v1h-1zM54 239h1v1h-1zM76 239h1v1h-1zM86 239h1v1h-1zM95 239h1v1h-1zM104 239h1v1h-1zM112 239h1v1h-1zM120 239h1v1h-1zM128 239h1v1h-1zM135 239h1v1h-1zM141 239h1v1h-1zM147 239h1v1h-1zM153 239h1v1h-1zM159 239h1v1h-1zM164 239h1v1h-1zM169 239h1v1h-1zM174 239h1v1h-1zM178 239h1v1h-1zM182 239h1v1h-1zM190 239h1v1h-1zM197 239h1v1h-1zM203 239h1v1h-1zM208 239h1v1h-1zM213 239h1v1h-1zM220 239h1v1h-1zM225 239h1v1h-1zM231 239h1v1h-1zM240 239h1v1h-1zM266 239h1v1h-1zM275 239h1v1h-1zM281 239h1v1h-1zM286 239h1v1h-1zM293 239h1v1h-1zM298 239h1v1h-1zM303 239h1v1h-1zM309 239h1v1h-1zM316 239h1v1h-1zM324 239h1v1h-1zM328 239h1v1h-1zM332 239h1v1h-1zM337 239h1v1h-1zM342 239h1v1h-1zM347 239h1v1h-1zM353 239h1v1h-1zM359 239h1v1h-1zM365 239h1v1h-1zM371 239h1v1h-1zM378 239h1v1h-1zM386 239h1v1h-1zM394 239h1v1h-1zM402 239h1v1h-1zM411 239h1v1h-1zM420 239h1v1h-1zM430 239h1v1h-1zM452 239h1v1h-1zM464 239h1v1h-1zM476 239h1v1h-1zM542 239h1v1h-1zM554 239h1v1h-1zM566 239h1v1h-1zM588 239h1v1h-1zM598 239h1v1h-1zM607 239h1v1h-1zM616 239h1v1h-1zM624 239h1v1h-1zM632 239h1v1h-1zM640 239h1v1h-1zM647 239h1v1h-1zM653 239h1v1h-1zM659 239h1v1h-1zM665 239h1v1h-1zM671 239h1v1h-1zM676 239h1v1h-1zM681 239h1v1h-1zM686 239h1v1h-1zM690 239h1v1h-1zM694 239h1v1h-1zM702 239h1v1h-1zM709 239h1v1h-1zM715 239h1v1h-1zM720 239h1v1h-1zM725 239h1v1h-1zM732 239h1v1h-1zM737 239h1v1h-1zM743 239h1v1h-1zM752 239h1v1h-1zM778 239h1v1h-1zM787 239h1v1h-1zM793 239h1v1h-1zM798 239h1v1h-1zM805 239h1v1h-1zM810 239h1v1h-1zM815 239h1v1h-1zM821 239h1v1h-1zM828 239h1v1h-1zM836 239h1v1h-1zM840 239h1v1h-1zM844 239h1v1h-1zM849 239h1v1h-1zM854 239h1v1h-1zM859 239h1v1h-1zM865 239h1v1h-1zM871 239h1v1h-1zM877 239h1v1h-1zM883 239h1v1h-1zM890 239h1v1h-1zM898 239h1v1h-1zM906 239h1v1h-1zM914 239h1v1h-1zM923 239h1v1h-1zM932 239h1v1h-1zM942 239h1v1h-1zM964 239h1v1h-1zM976 239h1v1h-1zM988 239h1v1h-1zM213 242h1v1h-1zM240 242h1v1h-1zM266 242h1v1h-1zM293 242h1v1h-1zM30 243h1v1h-1zM128 243h1v1h-1zM231 243h1v1h-1zM275 243h1v1h-1zM378 243h1v1h-1zM476 243h1v1h-1zM182 245h1v1h-1zM324 245h1v1h-1zM214 246h1v1h-1zM242 246h1v1h-1zM264 246h1v1h-1zM292 246h1v1h-1zM30 247h1v1h-1zM209 247h1v1h-1zM232 247h1v1h-1zM274 247h1v1h-1zM297 247h1v1h-1zM476 247h1v1h-1zM129 248h1v1h-1zM204 248h1v1h-1zM244 248h1v1h-1zM262 248h1v1h-1zM302 248h1v1h-1zM377 248h1v1h-1zM198 249h1v1h-1zM214 249h1v1h-1zM292 249h1v1h-1zM308 249h1v1h-1zM191 250h1v1h-1zM234 250h1v1h-1zM246 250h1v1h-1zM260 250h1v1h-1zM272 250h1v1h-1zM315 250h1v1h-1zM30 251h1v1h-1zM183 251h1v1h-1zM323 251h1v1h-1zM476 251h1v1h-1zM129 252h1v1h-1zM179 252h1v1h-1zM250 252h1v1h-1zM253 252h1v1h-1zM256 252h1v1h-1zM327 252h1v1h-1zM377 252h1v1h-1zM175 253h1v1h-1zM215 253h1v1h-1zM229 253h1v1h-1zM236 253h1v1h-1zM270 253h1v1h-1zM277 253h1v1h-1zM291 253h1v1h-1zM331 253h1v1h-1zM165 254h1v1h-1zM170 254h1v1h-1zM211 254h1v1h-1zM295 254h1v1h-1zM336 254h1v1h-1zM341 254h1v1h-1zM31 255h1v1h-1zM160 255h1v1h-1zM346 255h1v1h-1zM475 255h1v1h-1zM129 256h1v1h-1zM155 256h1v1h-1zM206 256h1v1h-1zM217 256h1v1h-1zM224 256h1v1h-1zM239 256h1v1h-1zM267 256h1v1h-1zM282 256h1v1h-1zM289 256h1v1h-1zM300 256h1v1h-1zM351 256h1v1h-1zM377 256h1v1h-1zM149 257h1v1h-1zM184 257h1v1h-1zM322 257h1v1h-1zM357 257h1v1h-1zM31 258h1v1h-1zM143 258h1v1h-1zM200 258h1v1h-1zM242 258h1v1h-1zM264 258h1v1h-1zM306 258h1v1h-1zM363 258h1v1h-1zM475 258h1v1h-1zM218 259h1v1h-1zM288 259h1v1h-1zM136 260h1v1h-1zM245 260h1v1h-1zM261 260h1v1h-1zM370 260h1v1h-1zM130 261h1v1h-1zM194 261h1v1h-1zM214 261h1v1h-1zM249 261h1v1h-1zM253 261h1v1h-1zM257 261h1v1h-1zM292 261h1v1h-1zM312 261h1v1h-1zM376 261h1v1h-1zM31 262h1v1h-1zM122 262h1v1h-1zM220 262h1v1h-1zM286 262h1v1h-1zM384 262h1v1h-1zM475 262h1v1h-1zM114 263h1v1h-1zM186 263h1v1h-1zM239 263h1v1h-1zM267 263h1v1h-1zM320 263h1v1h-1zM392 263h1v1h-1zM210 264h1v1h-1zM296 264h1v1h-1zM106 265h1v1h-1zM131 265h1v1h-1zM183 265h1v1h-1zM222 265h1v1h-1zM284 265h1v1h-1zM323 265h1v1h-1zM375 265h1v1h-1zM400 265h1v1h-1zM32 266h1v1h-1zM97 266h1v1h-1zM179 266h1v1h-1zM327 266h1v1h-1zM409 266h1v1h-1zM474 266h1v1h-1zM204 267h1v1h-1zM225 267h1v1h-1zM253 267h1v1h-1zM281 267h1v1h-1zM302 267h1v1h-1zM88 268h1v1h-1zM174 268h1v1h-1zM219 268h1v1h-1zM236 268h1v1h-1zM270 268h1v1h-1zM287 268h1v1h-1zM332 268h1v1h-1zM418 268h1v1h-1zM132 269h1v1h-1zM169 269h1v1h-1zM189 269h1v1h-1zM317 269h1v1h-1zM337 269h1v1h-1zM374 269h1v1h-1zM32 270h1v1h-1zM78 270h1v1h-1zM198 270h1v1h-1zM227 270h1v1h-1zM279 270h1v1h-1zM308 270h1v1h-1zM428 270h1v1h-1zM474 270h1v1h-1zM165 271h1v1h-1zM215 271h1v1h-1zM291 271h1v1h-1zM341 271h1v1h-1zM230 272h1v1h-1zM253 272h1v1h-1zM276 272h1v1h-1zM133 273h1v1h-1zM159 273h1v1h-1zM224 273h1v1h-1zM282 273h1v1h-1zM347 273h1v1h-1zM373 273h1v1h-1zM33 274h1v1h-1zM57 274h1v1h-1zM192 274h1v1h-1zM233 274h1v1h-1zM273 274h1v1h-1zM314 274h1v1h-1zM449 274h1v1h-1zM473 274h1v1h-1zM154 275h1v1h-1zM210 275h1v1h-1zM236 275h1v1h-1zM270 275h1v1h-1zM296 275h1v1h-1zM352 275h1v1h-1zM46 276h1v1h-1zM188 276h1v1h-1zM318 276h1v1h-1zM460 276h1v1h-1zM148 277h1v1h-1zM221 277h1v1h-1zM239 277h1v1h-1zM267 277h1v1h-1zM285 277h1v1h-1zM358 277h1v1h-1zM33 278h1v1h-1zM134 278h1v1h-1zM231 278h1v1h-1zM243 278h1v1h-1zM246 278h1v1h-1zM260 278h1v1h-1zM263 278h1v1h-1zM275 278h1v1h-1zM372 278h1v1h-1zM473 278h1v1h-1zM184 279h1v1h-1zM205 279h1v1h-1zM250 279h1v1h-1zM253 279h1v1h-1zM256 279h1v1h-1zM301 279h1v1h-1zM322 279h1v1h-1zM142 280h1v1h-1zM195 280h1v1h-1zM311 280h1v1h-1zM364 280h1v1h-1zM180 281h1v1h-1zM238 281h1v1h-1zM268 281h1v1h-1zM326 281h1v1h-1zM34 282h1v1h-1zM136 282h1v1h-1zM217 282h1v1h-1zM228 282h1v1h-1zM278 282h1v1h-1zM289 282h1v1h-1zM370 282h1v1h-1zM472 282h1v1h-1zM176 283h1v1h-1zM245 283h1v1h-1zM261 283h1v1h-1zM330 283h1v1h-1zM128 284h1v1h-1zM253 284h1v1h-1zM378 284h1v1h-1zM35 285h1v1h-1zM199 285h1v1h-1zM307 285h1v1h-1zM471 285h1v1h-1zM137 286h1v1h-1zM171 286h1v1h-1zM236 286h1v1h-1zM270 286h1v1h-1zM335 286h1v1h-1zM369 286h1v1h-1zM121 287h1v1h-1zM196 287h1v1h-1zM213 287h1v1h-1zM293 287h1v1h-1zM310 287h1v1h-1zM385 287h1v1h-1zM225 288h1v1h-1zM244 288h1v1h-1zM262 288h1v1h-1zM281 288h1v1h-1zM36 289h1v1h-1zM167 289h1v1h-1zM203 289h1v1h-1zM253 289h1v1h-1zM303 289h1v1h-1zM339 289h1v1h-1zM470 289h1v1h-1zM113 290h1v1h-1zM139 290h1v1h-1zM192 290h1v1h-1zM314 290h1v1h-1zM367 290h1v1h-1zM393 290h1v1h-1zM162 292h1v1h-1zM234 292h1v1h-1zM272 292h1v1h-1zM344 292h1v1h-1zM37 293h1v1h-1zM105 293h1v1h-1zM189 293h1v1h-1zM207 293h1v1h-1zM299 293h1v1h-1zM317 293h1v1h-1zM401 293h1v1h-1zM469 293h1v1h-1zM141 294h1v1h-1zM222 294h1v1h-1zM243 294h1v1h-1zM263 294h1v1h-1zM284 294h1v1h-1zM365 294h1v1h-1zM156 295h1v1h-1zM253 295h1v1h-1zM350 295h1v1h-1zM96 296h1v1h-1zM185 296h1v1h-1zM205 296h1v1h-1zM301 296h1v1h-1zM321 296h1v1h-1zM410 296h1v1h-1zM38 297h1v1h-1zM212 297h1v1h-1zM294 297h1v1h-1zM468 297h1v1h-1zM143 298h1v1h-1zM150 298h1v1h-1zM231 298h1v1h-1zM275 298h1v1h-1zM356 298h1v1h-1zM363 298h1v1h-1zM39 300h1v1h-1zM86 300h1v1h-1zM181 300h1v1h-1zM202 300h1v1h-1zM217 300h1v1h-1zM288 300h1v1h-1zM304 300h1v1h-1zM325 300h1v1h-1zM420 300h1v1h-1zM467 300h1v1h-1zM145 301h1v1h-1zM242 301h1v1h-1zM264 301h1v1h-1zM361 301h1v1h-1zM253 302h1v1h-1zM177 303h1v1h-1zM199 303h1v1h-1zM223 303h1v1h-1zM283 303h1v1h-1zM307 303h1v1h-1zM329 303h1v1h-1zM40 304h1v1h-1zM216 304h1v1h-1zM290 304h1v1h-1zM466 304h1v1h-1zM138 305h1v1h-1zM147 305h1v1h-1zM359 305h1v1h-1zM368 305h1v1h-1zM229 306h1v1h-1zM277 306h1v1h-1zM66 307h1v1h-1zM172 307h1v1h-1zM196 307h1v1h-1zM310 307h1v1h-1zM334 307h1v1h-1zM440 307h1v1h-1zM41 308h1v1h-1zM213 308h1v1h-1zM235 308h1v1h-1zM271 308h1v1h-1zM293 308h1v1h-1zM465 308h1v1h-1zM131 309h1v1h-1zM150 309h1v1h-1zM227 309h1v1h-1zM241 309h1v1h-1zM265 309h1v1h-1zM279 309h1v1h-1zM356 309h1v1h-1zM375 309h1v1h-1zM247 310h1v1h-1zM253 310h1v1h-1zM259 310h1v1h-1zM55 311h1v1h-1zM167 311h1v1h-1zM192 311h1v1h-1zM314 311h1v1h-1zM339 311h1v1h-1zM451 311h1v1h-1zM42 312h1v1h-1zM152 312h1v1h-1zM211 312h1v1h-1zM295 312h1v1h-1zM354 312h1v1h-1zM464 312h1v1h-1zM226 313h1v1h-1zM240 313h1v1h-1zM266 313h1v1h-1zM280 313h1v1h-1zM124 314h1v1h-1zM253 314h1v1h-1zM382 314h1v1h-1zM43 315h1v1h-1zM162 315h1v1h-1zM189 315h1v1h-1zM317 315h1v1h-1zM344 315h1v1h-1zM463 315h1v1h-1zM155 316h1v1h-1zM209 316h1v1h-1zM297 316h1v1h-1zM351 316h1v1h-1zM239 317h1v1h-1zM267 317h1v1h-1zM116 318h1v1h-1zM224 318h1v1h-1zM253 318h1v1h-1zM282 318h1v1h-1zM390 318h1v1h-1zM45 319h1v1h-1zM157 319h1v1h-1zM349 319h1v1h-1zM461 319h1v1h-1zM185 320h1v1h-1zM321 320h1v1h-1zM206 321h1v1h-1zM300 321h1v1h-1zM238 322h1v1h-1zM268 322h1v1h-1zM46 323h1v1h-1zM108 323h1v1h-1zM160 323h1v1h-1zM223 323h1v1h-1zM253 323h1v1h-1zM283 323h1v1h-1zM346 323h1v1h-1zM398 323h1v1h-1zM460 323h1v1h-1zM151 324h1v1h-1zM355 324h1v1h-1zM181 325h1v1h-1zM203 325h1v1h-1zM303 325h1v1h-1zM325 325h1v1h-1zM48 326h1v1h-1zM163 326h1v1h-1zM343 326h1v1h-1zM458 326h1v1h-1zM221 327h1v1h-1zM238 327h1v1h-1zM268 327h1v1h-1zM285 327h1v1h-1zM100 328h1v1h-1zM253 328h1v1h-1zM406 328h1v1h-1zM166 329h1v1h-1zM340 329h1v1h-1zM49 330h1v1h-1zM145 330h1v1h-1zM177 330h1v1h-1zM200 330h1v1h-1zM306 330h1v1h-1zM329 330h1v1h-1zM361 330h1v1h-1zM457 330h1v1h-1zM169 332h1v1h-1zM237 332h1v1h-1zM269 332h1v1h-1zM337 332h1v1h-1zM51 333h1v1h-1zM219 333h1v1h-1zM253 333h1v1h-1zM287 333h1v1h-1zM455 333h1v1h-1zM139 335h1v1h-1zM173 335h1v1h-1zM333 335h1v1h-1zM367 335h1v1h-1zM197 336h1v1h-1zM309 336h1v1h-1zM53 337h1v1h-1zM176 337h1v1h-1zM236 337h1v1h-1zM270 337h1v1h-1zM330 337h1v1h-1zM453 337h1v1h-1zM81 338h1v1h-1zM217 338h1v1h-1zM289 338h1v1h-1zM425 338h1v1h-1zM253 339h1v1h-1zM54 340h1v1h-1zM180 340h1v1h-1zM326 340h1v1h-1zM452 340h1v1h-1zM132 341h1v1h-1zM168 341h1v1h-1zM338 341h1v1h-1zM374 341h1v1h-1zM183 342h1v1h-1zM194 342h1v1h-1zM312 342h1v1h-1zM323 342h1v1h-1zM235 343h1v1h-1zM271 343h1v1h-1zM56 344h1v1h-1zM71 344h1v1h-1zM215 344h1v1h-1zM291 344h1v1h-1zM435 344h1v1h-1zM450 344h1v1h-1zM187 345h1v1h-1zM253 345h1v1h-1zM319 345h1v1h-1zM58 347h1v1h-1zM125 347h1v1h-1zM162 347h1v1h-1zM191 347h1v1h-1zM315 347h1v1h-1zM344 347h1v1h-1zM381 347h1v1h-1zM448 347h1v1h-1zM194 349h1v1h-1zM234 349h1v1h-1zM272 349h1v1h-1zM312 349h1v1h-1zM60 350h1v1h-1zM212 350h1v1h-1zM294 350h1v1h-1zM198 351h1v1h-1zM253 351h1v1h-1zM308 351h1v1h-1zM446 351h1v1h-1zM117 353h1v1h-1zM157 353h1v1h-1zM202 353h1v1h-1zM304 353h1v1h-1zM349 353h1v1h-1zM389 353h1v1h-1zM62 354h1v1h-1zM187 354h1v1h-1zM319 354h1v1h-1zM444 354h1v1h-1zM206 355h1v1h-1zM300 355h1v1h-1zM210 356h1v1h-1zM232 356h1v1h-1zM274 356h1v1h-1zM296 356h1v1h-1zM64 357h1v1h-1zM253 357h1v1h-1zM442 357h1v1h-1zM214 358h1v1h-1zM292 358h1v1h-1zM219 359h1v1h-1zM287 359h1v1h-1zM66 360h1v1h-1zM151 360h1v1h-1zM223 360h1v1h-1zM283 360h1v1h-1zM355 360h1v1h-1zM440 360h1v1h-1zM183 361h1v1h-1zM227 361h1v1h-1zM279 361h1v1h-1zM323 361h1v1h-1zM231 362h1v1h-1zM275 362h1v1h-1zM236 363h1v1h-1zM240 363h1v1h-1zM244 363h1v1h-1zM262 363h1v1h-1zM266 363h1v1h-1zM270 363h1v1h-1zM68 364h1v1h-1zM208 364h1v1h-1zM249 364h1v1h-1zM253 364h1v1h-1zM257 364h1v1h-1zM298 364h1v1h-1zM438 364h1v1h-1zM70 367h1v1h-1zM101 367h1v1h-1zM145 367h1v1h-1zM361 367h1v1h-1zM405 367h1v1h-1zM436 367h1v1h-1zM178 368h1v1h-1zM328 368h1v1h-1zM73 370h1v1h-1zM230 370h1v1h-1zM276 370h1v1h-1zM433 370h1v1h-1zM205 371h1v1h-1zM301 371h1v1h-1zM253 372h1v1h-1zM75 373h1v1h-1zM431 373h1v1h-1zM92 374h1v1h-1zM414 374h1v1h-1zM139 375h1v1h-1zM367 375h1v1h-1zM77 376h1v1h-1zM174 376h1v1h-1zM332 376h1v1h-1zM429 376h1v1h-1zM229 378h1v1h-1zM277 378h1v1h-1zM80 379h1v1h-1zM202 379h1v1h-1zM304 379h1v1h-1zM426 379h1v1h-1zM253 380h1v1h-1zM82 382h1v1h-1zM424 382h1v1h-1zM169 384h1v1h-1zM337 384h1v1h-1zM85 385h1v1h-1zM421 385h1v1h-1zM227 386h1v1h-1zM279 386h1v1h-1zM199 387h1v1h-1zM307 387h1v1h-1zM87 388h1v1h-1zM253 388h1v1h-1zM419 388h1v1h-1zM90 391h1v1h-1zM125 391h1v1h-1zM381 391h1v1h-1zM416 391h1v1h-1zM164 392h1v1h-1zM342 392h1v1h-1zM93 394h1v1h-1zM413 394h1v1h-1zM226 395h1v1h-1zM280 395h1v1h-1zM196 396h1v1h-1zM310 396h1v1h-1zM95 397h1v1h-1zM253 397h1v1h-1zM411 397h1v1h-1zM98 399h1v1h-1zM408 399h1v1h-1zM118 400h1v1h-1zM388 400h1v1h-1zM101 402h1v1h-1zM405 402h1v1h-1zM224 404h1v1h-1zM282 404h1v1h-1zM104 405h1v1h-1zM402 405h1v1h-1zM192 406h1v1h-1zM253 406h1v1h-1zM314 406h1v1h-1zM107 407h1v1h-1zM399 407h1v1h-1zM110 410h1v1h-1zM396 410h1v1h-1zM154 411h1v1h-1zM352 411h1v1h-1zM113 412h1v1h-1zM393 412h1v1h-1zM222 414h1v1h-1zM284 414h1v1h-1zM116 415h1v1h-1zM390 415h1v1h-1zM253 416h1v1h-1zM119 417h1v1h-1zM387 417h1v1h-1zM122 419h1v1h-1zM384 419h1v1h-1zM148 421h1v1h-1zM358 421h1v1h-1zM125 422h1v1h-1zM381 422h1v1h-1zM128 424h1v1h-1zM378 424h1v1h-1zM132 426h1v1h-1zM185 426h1v1h-1zM321 426h1v1h-1zM374 426h1v1h-1zM135 428h1v1h-1zM371 428h1v1h-1zM138 430h1v1h-1zM368 430h1v1h-1zM141 432h1v1h-1zM364 432h1v1h-1zM145 434h1v1h-1zM361 434h1v1h-1zM218 435h1v1h-1zM288 435h1v1h-1zM148 436h1v1h-1zM358 436h1v1h-1zM181 437h1v1h-1zM325 437h1v1h-1zM152 438h1v1h-1zM253 438h1v1h-1zM354 438h1v1h-1zM155 439h1v1h-1zM351 439h1v1h-1zM159 441h1v1h-1zM347 441h1v1h-1zM162 443h1v1h-1zM344 443h1v1h-1zM166 444h1v1h-1zM340 444h1v1h-1zM169 446h1v1h-1zM216 446h1v1h-1zM290 446h1v1h-1zM337 446h1v1h-1zM173 447h1v1h-1zM333 447h1v1h-1zM177 449h1v1h-1zM329 449h1v1h-1zM180 450h1v1h-1zM253 450h1v1h-1zM326 450h1v1h-1zM184 451h1v1h-1zM322 451h1v1h-1zM188 452h1v1h-1zM318 452h1v1h-1zM192 453h1v1h-1zM314 453h1v1h-1zM195 454h1v1h-1zM311 454h1v1h-1zM199 455h1v1h-1zM307 455h1v1h-1zM203 456h1v1h-1zM303 456h1v1h-1zM207 457h1v1h-1zM299 457h1v1h-1zM210 458h1v1h-1zM296 458h1v1h-1zM214 459h1v1h-1zM218 459h1v1h-1zM288 459h1v1h-1zM292 459h1v1h-1zM222 460h1v1h-1zM226 460h1v1h-1zM280 460h1v1h-1zM284 460h1v1h-1zM230 461h1v1h-1zM234 461h1v1h-1zM237 461h1v1h-1zM269 461h1v1h-1zM272 461h1v1h-1zM276 461h1v1h-1zM241 462h1v1h-1zM245 462h1v1h-1zM249 462h1v1h-1zM253 462h1v1h-1zM257 462h1v1h-1zM261 462h1v1h-1zM265 462h1v1h-1z"/>
<path fill="#ff0000" d="M253 51h1v1h-1zM765 51h1v1h-1zM233 52h1v1h-1zM240 52h1v1h-1zM246 52h1v1h-1zM260 52h1v1h-1zM266 52h1v1h-1zM273 52h1v1h-1zM745 52h1v1h-1zM752 52h1v1h-1zM758 52h1v1h-1zM772 52h1v1h-1zM778 52h1v1h-1zM785 52h1v1h-1zM227 53h1v1h-1zM279 53h1v1h-1zM739 53h1v1h-1zM791 53h1v1h-1zM220 54h1v1h-1zM286 54h1v1h-1zM732 54h1v1h-1zM798 54h1v1h-1zM214 55h1v1h-1zM292 55h1v1h-1zM726 55h1v1h-1zM804 55h1v1h-1zM208 57h1v1h-1zM298 57h1v1h-1zM720 57h1v1h-1zM810 57h1v1h-1zM201 59h1v1h-1zM305 59h1v1h-1zM713 59h1v1h-1zM817 59h1v1h-1zM195 61h1v1h-1zM311 61h1v1h-1zM707 61h1v1h-1zM823 61h1v1h-1zM189 63h1v1h-1zM317 63h1v1h-1zM701 63h1v1h-1zM829 63h1v1h-1zM183 65h1v1h-1zM323 65h1v1h-1zM695 65h1v1h-1zM835 65h1v1h-1zM177 68h1v1h-1zM329 68h1v1h-1zM689 68h1v1h-1zM841 68h1v1h-1zM171 70h1v1h-1zM335 70h1v1h-1zM683 70h1v1h-1zM847 70h1v1h-1zM165 73h1v1h-1zM341 73h1v1h-1zM677 73h1v1h-1zM853 73h1v1h-1zM159 77h1v1h-1zM347 77h1v1h-1zM671 77h1v1h-1zM859 77h1v1h-1zM154 80h1v1h-1zM352 80h1v1h-1zM666 80h1v1h-1zM864 80h1v1h-1zM148 83h1v1h-1zM358 83h1v1h-1zM660 83h1v1h-1zM870 83h1v1h-1zM143 87h1v1h-1zM363 87h1v1h-1zM655 87h1v1h-1zM875 87h1v1h-1zM138 91h1v1h-1zM368 91h1v1h-1zM650 91h1v1h-1zM880 91h1v1h-1zM132 95h1v1h-1zM374 95h1v1h-1zM644 95h1v1h-1zM886 95h1v1h-1zM127 100h1v1h-1zM379 100h1v1h-1zM639 100h1v1h-1zM891 100h1v1h-1zM123 104h1v1h-1zM383 104h1v1h-1zM635 104h1v1h-1zM895 104h1v1h-1zM118 109h1v1h-1zM388 109h1v1h-1zM630 109h1v1h-1zM900 109h1v1h-1zM114 113h1v1h-1zM392 113h1v1h-1zM626 113h1v1h-1zM904 113h1v1h-1zM109 118h1v1h-1zM397 118h1v1h-1zM621 118h1v1h-1zM909 118h1v1h-1zM105 124h1v1h-1zM401 124h1v1h-1zM617 124h1v1h-1zM913 124h1v1h-1zM101 129h1v1h-1zM405 129h1v1h-1zM613 129h1v1h-1zM917 129h1v1h-1zM97 134h1v1h-1zM409 134h1v1h-1zM609 134h1v1h-1zM921 134h1v1h-1zM94 140h1v1h-1zM412 140h1v1h-1zM606 140h1v1h-1zM924 140h1v1h-1zM91 145h1v1h-1zM415 145h1v1h-1zM603 145h1v1h-1zM927 145h1v1h-1zM87 151h1v1h-1zM419 151h1v1h-1zM599 151h1v1h-1zM931 151h1v1h-1zM84 157h1v1h-1zM422 157h1v1h-1zM596 157h1v1h-1zM934 157h1v1h-1zM82 163h1v1h-1zM424 163h1v1h-1zM594 163h1v1h-1zM936 163h1v1h-1zM79 169h1v1h-1zM427 169h1v1h-1zM591 169h1v1h-1zM939 169h1v1h-1zM77 175h1v1h-1zM429 175h1v1h-1zM589 175h1v1h-1zM941 175h1v1h-1zM75 181h1v1h-1zM431 181h1v1h-1zM587 181h1v1h-1zM943 181h1v1h-1zM73 187h1v1h-1zM433 187h1v1h-1zM585 187h1v1h-1zM945 187h1v1h-1zM71 194h1v1h-1zM435 194h1v1h-1zM583 194h1v1h-1zM947 194h1v1h-1zM69 200h1v1h-1zM437 200h1v1h-1zM581 200h1v1h-1zM949 200h1v1h-1zM68 206h1v1h-1zM438 206h1v1h-1zM580 206h1v1h-1zM950 206h1v1h-1zM67 213h1v1h-1zM439 213h1v1h-1zM579 213h1v1h-1zM951 213h1v1h-1zM66 219h1v1h-1zM440 219h1v1h-1zM578 219h1v1h-1zM952 219h1v1h-1zM66 226h1v1h-1zM440 226h1v1h-1zM578 226h1v1h-1zM952 226h1v1h-1zM66 232h1v1h-1zM440 232h1v1h-1zM578 232h1v1h-1zM952 232h1v1h-1zM65 239h1v1h-1zM441 239h1v1h-1zM577 239h1v1h-1zM953 239h1v1h-1zM66 246h1v1h-1zM440 246h1v1h-1zM66 252h1v1h-1zM440 252h1v1h-1zM66 259h1v1h-1zM440 259h1v1h-1zM67 265h1v1h-1zM439 265h1v1h-1zM68 272h1v1h-1zM438 272h1v1h-1zM69 278h1v1h-1zM437 278h1v1h-1zM71 284h1v1h-1zM435 284h1v1h-1zM73 291h1v1h-1zM433 291h1v1h-1zM75 297h1v1h-1zM431 297h1v1h-1zM77 303h1v1h-1zM429 303h1v1h-1zM79 309h1v1h-1zM427 309h1v1h-1zM82 315h1v1h-1zM424 315h1v1h-1zM84 321h1v1h-1zM422 321h1v1h-1zM87 327h1v1h-1zM419 327h1v1h-1zM91 333h1v1h-1zM415 333h1v1h-1zM94 338h1v1h-1zM412 338h1v1h-1zM97 344h1v1h-1zM409 344h1v1h-1zM101 349h1v1h-1zM405 349h1v1h-1zM105 354h1v1h-1zM401 354h1v1h-1zM109 360h1v1h-1zM397 360h1v1h-1zM114 365h1v1h-1zM392 365h1v1h-1zM118 369h1v1h-1zM388 369h1v1h-1zM123 374h1v1h-1zM383 374h1v1h-1zM127 378h1v1h-1zM379 378h1v1h-1zM132 383h1v1h-1zM374 383h1v1h-1zM138 387h1v1h-1zM368 387h1v1h-1zM143 391h1v1h-1zM363 391h1v1h-1zM148 395h1v1h-1zM358 395h1v1h-1zM154 398h1v1h-1zM352 398h1v1h-1zM159 401h1v1h-1zM347 401h1v1h-1zM165 405h1v1h-1zM341 405h1v1h-1zM171 408h1v1h-1zM335 408h1v1h-1zM177 410h1v1h-1zM329 410h1v1h-1zM183 413h1v1h-1zM323 413h1v1h-1zM189 415h1v1h-1zM317 415h1v1h-1zM195 417h1v1h-1zM311 417h1v1h-1zM201 419h1v1h-1zM305 419h1v1h-1zM208 421h1v1h-1zM298 421h1v1h-1zM214 423h1v1h-1zM292 423h1v1h-1zM220 424h1v1h-1zM286 424h1v1h-1zM227 425h1v1h-1zM279 425h1v1h-1zM233 426h1v1h-1zM240 426h1v1h-1zM246 426h1v1h-1zM260 426h1v1h-1zM266 426h1v1h-1zM273 426h1v1h-1zM253 427h1v1h-1z"/>
</g>
<g font-family="Liberation Sans, Arial, sans-serif" font-size="21" fill="#000" stroke="#000" stroke-width="0.3" filter="url(#al)">
<text x="248" y="24">0</text>
<text x="240" y="59">-3</text>
<text x="234" y="121">-10</text>
<text x="234" y="177">-20</text>
<text x="234" y="207">-30</text>
<text x="234" y="224">-40</text>
<text x="760" y="24">0</text>
<text x="752" y="59">-3</text>
<text x="746" y="121">-10</text>
<text x="746" y="177">-20</text>
<text x="746" y="207">-30</text>
<text x="746" y="224">-40</text>
<text x="478" y="247">X</text>
<text x="988" y="247">X</text>
<text x="247" y="9">Y</text>
<text x="758" y="10">Z</text>
</g>
<g shape-rendering="crispEdges">
<path fill="#0000ff" d="M751 16h31v1h-31zM742 17h9v1h-9zM781 17h10v1h-10zM735 18h7v1h-7zM790 18h8v1h-8zM729 19h6v1h-6zM797 19h6v1h-6zM724 20h5v1h-5zM803 20h5v1h-5zM720 21h5v1h-5zM808 21h4v1h-4zM716 22h4v1h-4zM812 22h4v1h-4zM712 23h5v1h-5zM815 23h5v1h-5zM709 24h4v1h-4zM819 24h4v1h-4zM706 25h3v1h-3zM822 25h4v1h-4zM703 26h3v1h-3zM825 26h4v1h-4zM699 27h4v1h-4zM828 27h4v1h-4zM697 28h3v1h-3zM831 28h4v1h-4zM694 29h3v1h-3zM834 29h3v1h-3zM692 30h3v1h-3zM837 30h3v1h-3zM689 31h3v1h-3zM839 31h3v1h-3zM687 32h3v1h-3zM841 32h3v1h-3zM685 33h2v1h-2zM844 33h3v1h-3zM682 34h3v1h-3zM846 34h3v1h-3zM680 35h3v1h-3zM848 35h3v1h-3zM678 36h3v1h-3zM850 36h3v1h-3zM676 37h3v1h-3zM852 37h2v1h-2zM674 38h3v1h-3zM854 38h2v1h-2zM673 39h2v1h-2zM856 39h2v1h-2zM671 40h2v1h-2zM858 40h2v1h-2zM669 41h2v1h-2zM860 41h2v1h-2zM667 42h2v1h-2zM862 42h2v1h-2zM245 43h17v1h-17zM665 43h2v1h-2zM864 43h2v1h-2zM228 44h17v1h-17zM262 44h17v1h-17zM664 44h2v1h-2zM865 44h2v1h-2zM217 45h11v1h-11zM279 45h11v1h-11zM662 45h2v1h-2zM867 45h2v1h-2zM211 46h6v1h-6zM290 46h6v1h-6zM660 46h2v1h-2zM868 46h3v1h-3zM205 47h6v1h-6zM296 47h6v1h-6zM658 47h3v1h-3zM870 47h2v1h-2zM201 48h4v1h-4zM302 48h4v1h-4zM657 48h2v1h-2zM872 48h1v1h-1zM197 49h4v1h-4zM306 49h4v1h-4zM656 49h2v1h-2zM873 49h2v1h-2zM194 50h3v1h-3zM310 50h3v1h-3zM654 50h2v1h-2zM875 50h2v1h-2zM191 51h3v1h-3zM313 51h3v1h-3zM652 51h2v1h-2zM876 51h2v1h-2zM187 52h4v1h-4zM316 52h4v1h-4zM651 52h2v1h-2zM877 52h2v1h-2zM184 53h3v1h-3zM320 53h3v1h-3zM650 53h2v1h-2zM879 53h2v1h-2zM181 54h3v1h-3zM323 54h3v1h-3zM648 54h2v1h-2zM881 54h1v1h-1zM178 55h3v1h-3zM326 55h4v1h-4zM647 55h2v1h-2zM882 55h2v1h-2zM174 56h4v1h-4zM330 56h3v1h-3zM645 56h2v1h-2zM883 56h2v1h-2zM171 57h3v1h-3zM333 57h3v1h-3zM644 57h2v1h-2zM885 57h1v1h-1zM168 58h3v1h-3zM336 58h3v1h-3zM643 58h2v1h-2zM886 58h2v1h-2zM166 59h2v1h-2zM339 59h2v1h-2zM642 59h1v1h-1zM887 59h2v1h-2zM163 60h3v1h-3zM341 60h3v1h-3zM640 60h2v1h-2zM888 60h2v1h-2zM161 61h2v1h-2zM344 61h2v1h-2zM639 61h2v1h-2zM890 61h2v1h-2zM159 62h2v1h-2zM346 62h2v1h-2zM638 62h2v1h-2zM891 62h1v1h-1zM156 63h3v1h-3zM348 63h3v1h-3zM637 63h2v1h-2zM892 63h2v1h-2zM154 64h2v1h-2zM351 64h2v1h-2zM636 64h2v1h-2zM893 64h2v1h-2zM152 65h2v1h-2zM353 65h2v1h-2zM634 65h2v1h-2zM894 65h2v1h-2zM150 66h2v1h-2zM355 66h2v1h-2zM633 66h2v1h-2zM896 66h1v1h-1zM148 67h2v1h-2zM357 67h2v1h-2zM632 67h2v1h-2zM897 67h1v1h-1zM146 68h2v1h-2zM359 68h2v1h-2zM631 68h2v1h-2zM898 68h2v1h-2zM144 69h2v1h-2zM361 69h2v1h-2zM630 69h2v1h-2zM899 69h2v1h-2zM142 70h2v1h-2zM363 70h2v1h-2zM629 70h2v1h-2zM900 70h2v1h-2zM140 71h2v1h-2zM365 71h2v1h-2zM628 71h2v1h-2zM901 71h2v1h-2zM138 72h2v1h-2zM367 72h2v1h-2zM627 72h2v1h-2zM902 72h2v1h-2zM137 73h1v1h-1zM369 73h1v1h-1zM626 73h1v1h-1zM903 73h2v1h-2zM135 74h2v1h-2zM370 74h2v1h-2zM625 74h2v1h-2zM904 74h2v1h-2zM134 75h1v1h-1zM372 75h1v1h-1zM624 75h2v1h-2zM905 75h2v1h-2zM132 76h2v1h-2zM373 76h2v1h-2zM623 76h2v1h-2zM906 76h2v1h-2zM131 77h1v1h-1zM375 77h1v1h-1zM622 77h2v1h-2zM907 77h2v1h-2zM129 78h2v1h-2zM376 78h2v1h-2zM621 78h2v1h-2zM908 78h2v1h-2zM128 79h1v1h-1zM378 79h1v1h-1zM620 79h2v1h-2zM909 79h1v1h-1zM126 80h2v1h-2zM379 80h2v1h-2zM619 80h2v1h-2zM910 80h2v1h-2zM125 81h1v1h-1zM381 81h1v1h-1zM618 81h2v1h-2zM911 81h1v1h-1zM123 82h2v1h-2zM382 82h2v1h-2zM618 82h1v1h-1zM912 82h1v1h-1zM122 83h1v1h-1zM384 83h1v1h-1zM617 83h1v1h-1zM913 83h1v1h-1zM120 84h2v1h-2zM385 84h2v1h-2zM616 84h1v1h-1zM913 84h2v1h-2zM119 85h1v1h-1zM387 85h1v1h-1zM615 85h1v1h-1zM915 85h1v1h-1zM117 86h2v1h-2zM388 86h2v1h-2zM614 86h2v1h-2zM915 86h2v1h-2zM116 87h1v1h-1zM390 87h1v1h-1zM613 87h2v1h-2zM916 87h2v1h-2zM114 88h2v1h-2zM391 88h2v1h-2zM613 88h1v1h-1zM917 88h1v1h-1zM113 89h1v1h-1zM393 89h1v1h-1zM612 89h1v1h-1zM918 89h1v1h-1zM111 90h2v1h-2zM394 90h2v1h-2zM611 90h1v1h-1zM919 90h1v1h-1zM110 91h1v1h-1zM396 91h1v1h-1zM610 91h2v1h-2zM919 91h2v1h-2zM108 92h2v1h-2zM397 92h2v1h-2zM609 92h2v1h-2zM920 92h2v1h-2zM107 93h1v1h-1zM399 93h1v1h-1zM609 93h1v1h-1zM921 93h1v1h-1zM106 94h1v1h-1zM400 94h1v1h-1zM608 94h1v1h-1zM922 94h1v1h-1zM105 95h1v1h-1zM401 95h1v1h-1zM607 95h2v1h-2zM922 95h2v1h-2zM104 96h1v1h-1zM402 96h1v1h-1zM606 96h2v1h-2zM923 96h2v1h-2zM103 97h1v1h-1zM403 97h1v1h-1zM606 97h1v1h-1zM924 97h1v1h-1zM102 98h1v1h-1zM404 98h1v1h-1zM605 98h1v1h-1zM925 98h1v1h-1zM101 99h1v1h-1zM405 99h1v1h-1zM604 99h2v1h-2zM925 99h2v1h-2zM100 100h1v1h-1zM406 100h1v1h-1zM604 100h1v1h-1zM926 100h1v1h-1zM99 101h1v1h-1zM407 101h1v1h-1zM603 101h1v1h-1zM927 101h1v1h-1zM98 102h1v1h-1zM408 102h1v1h-1zM602 102h2v1h-2zM927 102h2v1h-2zM97 103h1v1h-1zM409 103h1v1h-1zM602 103h1v1h-1zM928 103h1v1h-1zM96 104h1v1h-1zM410 104h1v1h-1zM601 104h1v1h-1zM928 104h2v1h-2zM95 105h1v1h-1zM411 105h1v1h-1zM600 105h2v1h-2zM929 105h2v1h-2zM94 106h1v1h-1zM412 106h1v1h-1zM600 106h1v1h-1zM930 106h1v1h-1zM93 107h1v1h-1zM413 107h1v1h-1zM599 107h1v1h-1zM930 107h2v1h-2zM92 108h1v1h-1zM414 108h1v1h-1zM599 108h1v1h-1zM931 108h1v1h-1zM91 109h1v1h-1zM415 109h1v1h-1zM598 109h1v1h-1zM932 109h1v1h-1zM90 110h1v1h-1zM416 110h1v1h-1zM597 110h2v1h-2zM932 110h1v1h-1zM89 111h1v1h-1zM417 111h1v1h-1zM597 111h1v1h-1zM933 111h1v1h-1zM88 112h1v1h-1zM418 112h1v1h-1zM596 112h2v1h-2zM933 112h1v1h-1zM88 113h1v1h-1zM418 113h1v1h-1zM596 113h1v1h-1zM934 113h1v1h-1zM87 114h1v1h-1zM419 114h1v1h-1zM595 114h1v1h-1zM934 114h2v1h-2zM86 115h1v1h-1zM420 115h1v1h-1zM594 115h2v1h-2zM935 115h1v1h-1zM85 116h1v1h-1zM421 116h1v1h-1zM594 116h1v1h-1zM935 116h2v1h-2zM84 117h1v1h-1zM422 117h1v1h-1zM593 117h2v1h-2zM936 117h1v1h-1zM83 118h1v1h-1zM423 118h1v1h-1zM593 118h1v1h-1zM936 118h2v1h-2zM82 119h1v1h-1zM424 119h1v1h-1zM592 119h2v1h-2zM937 119h1v1h-1zM81 120h1v1h-1zM425 120h1v1h-1zM592 120h1v1h-1zM937 120h2v1h-2zM81 121h1v1h-1zM425 121h1v1h-1zM591 121h2v1h-2zM938 121h1v1h-1zM80 122h1v1h-1zM426 122h1v1h-1zM591 122h1v1h-1zM938 122h1v1h-1zM79 123h1v1h-1zM427 123h1v1h-1zM590 123h2v1h-2zM939 123h1v1h-1zM78 124h1v1h-1zM428 124h1v1h-1zM590 124h1v1h-1zM939 124h1v1h-1zM78 125h1v1h-1zM428 125h1v1h-1zM590 125h1v1h-1zM940 125h1v1h-1zM77 126h1v1h-1zM429 126h1v1h-1zM589 126h1v1h-1zM940 126h1v1h-1zM76 127h1v1h-1zM430 127h1v1h-1zM589 127h1v1h-1zM940 127h2v1h-2zM75 128h1v1h-1zM431 128h1v1h-1zM588 128h1v1h-1zM941 128h1v1h-1zM75 129h1v1h-1zM431 129h1v1h-1zM588 129h1v1h-1zM941 129h1v1h-1zM74 130h1v1h-1zM432 130h1v1h-1zM588 130h1v1h-1zM941 130h2v1h-2zM73 131h1v1h-1zM433 131h1v1h-1zM587 131h1v1h-1zM942 131h1v1h-1zM72 132h1v1h-1zM434 132h1v1h-1zM587 132h1v1h-1zM942 132h1v1h-1zM72 133h1v1h-1zM434 133h1v1h-1zM586 133h2v1h-2zM943 133h1v1h-1zM71 134h1v1h-1zM435 134h1v1h-1zM586 134h1v1h-1zM943 134h1v1h-1zM70 135h1v1h-1zM436 135h1v1h-1zM586 135h1v1h-1zM943 135h1v1h-1zM70 136h1v1h-1zM436 136h1v1h-1zM585 136h1v1h-1zM944 136h1v1h-1zM69 137h1v1h-1zM437 137h1v1h-1zM585 137h1v1h-1zM944 137h1v1h-1zM68 138h1v1h-1zM437 138h1v1h-1zM585 138h1v1h-1zM944 138h1v1h-1zM68 139h1v1h-1zM438 139h1v1h-1zM584 139h1v1h-1zM944 139h2v1h-2zM67 140h1v1h-1zM439 140h1v1h-1zM584 140h1v1h-1zM945 140h1v1h-1zM67 141h1v1h-1zM439 141h1v1h-1zM584 141h1v1h-1zM945 141h1v1h-1zM66 142h1v1h-1zM440 142h1v1h-1zM583 142h1v1h-1zM945 142h1v1h-1zM65 143h1v1h-1zM441 143h1v1h-1zM583 143h1v1h-1zM946 143h1v1h-1zM65 144h1v1h-1zM441 144h1v1h-1zM583 144h1v1h-1zM946 144h1v1h-1zM64 145h1v1h-1zM442 145h1v1h-1zM582 145h2v1h-2zM946 145h1v1h-1zM63 146h1v1h-1zM442 146h1v1h-1zM582 146h1v1h-1zM946 146h1v1h-1zM63 147h1v1h-1zM443 147h1v1h-1zM582 147h1v1h-1zM946 147h2v1h-2zM62 148h1v1h-1zM444 148h1v1h-1zM582 148h1v1h-1zM947 148h1v1h-1zM62 149h1v1h-1zM444 149h1v1h-1zM581 149h2v1h-2zM947 149h1v1h-1zM61 150h1v1h-1zM445 150h1v1h-1zM581 150h1v1h-1zM947 150h1v1h-1zM60 151h1v1h-1zM445 151h1v1h-1zM581 151h1v1h-1zM947 151h1v1h-1zM60 152h1v1h-1zM446 152h1v1h-1zM581 152h1v1h-1zM947 152h1v1h-1zM59 153h1v1h-1zM446 153h1v1h-1zM581 153h1v1h-1zM948 153h1v1h-1zM59 154h1v1h-1zM447 154h1v1h-1zM581 154h1v1h-1zM948 154h1v1h-1zM58 155h1v1h-1zM447 155h1v1h-1zM580 155h1v1h-1zM948 155h1v1h-1zM58 156h1v1h-1zM448 156h1v1h-1zM580 156h1v1h-1zM948 156h1v1h-1zM57 157h1v1h-1zM448 157h1v1h-1zM580 157h1v1h-1zM948 157h1v1h-1zM57 158h1v1h-1zM449 158h1v1h-1zM580 158h1v1h-1zM948 158h1v1h-1zM56 159h1v1h-1zM449 159h1v1h-1zM580 159h1v1h-1zM948 159h1v1h-1zM56 160h1v1h-1zM450 160h1v1h-1zM580 160h1v1h-1zM948 160h2v1h-2zM55 161h1v1h-1zM450 161h1v1h-1zM580 161h1v1h-1zM949 161h1v1h-1zM55 162h1v1h-1zM451 162h1v1h-1zM580 162h1v1h-1zM949 162h1v1h-1zM54 163h1v1h-1zM451 163h1v1h-1zM580 163h1v1h-1zM949 163h1v1h-1zM54 164h1v1h-1zM452 164h1v1h-1zM580 164h1v1h-1zM949 164h1v1h-1zM53 165h1v1h-1zM452 165h1v1h-1zM580 165h1v1h-1zM949 165h1v1h-1zM53 166h1v1h-1zM453 166h1v1h-1zM580 166h1v1h-1zM949 166h1v1h-1zM53 167h1v1h-1zM453 167h1v1h-1zM580 167h1v1h-1zM949 167h1v1h-1zM52 168h1v1h-1zM454 168h1v1h-1zM580 168h1v1h-1zM949 168h1v1h-1zM52 169h1v1h-1zM454 169h1v1h-1zM580 169h1v1h-1zM949 169h1v1h-1zM52 170h1v1h-1zM454 170h1v1h-1zM580 170h1v1h-1zM949 170h1v1h-1zM51 171h1v1h-1zM455 171h1v1h-1zM580 171h1v1h-1zM949 171h1v1h-1zM51 172h1v1h-1zM455 172h1v1h-1zM580 172h1v1h-1zM949 172h1v1h-1zM51 173h1v1h-1zM455 173h1v1h-1zM580 173h1v1h-1zM949 173h1v1h-1zM50 174h1v1h-1zM456 174h1v1h-1zM580 174h1v1h-1zM949 174h1v1h-1zM50 175h1v1h-1zM456 175h1v1h-1zM580 175h1v1h-1zM949 175h1v1h-1zM50 176h1v1h-1zM456 176h1v1h-1zM580 176h1v1h-1zM949 176h1v1h-1zM49 177h1v1h-1zM457 177h1v1h-1zM580 177h1v1h-1zM949 177h1v1h-1zM49 178h1v1h-1zM457 178h1v1h-1zM581 178h1v1h-1zM948 178h2v1h-2zM49 179h1v1h-1zM457 179h1v1h-1zM581 179h1v1h-1zM948 179h1v1h-1zM48 180h1v1h-1zM458 180h1v1h-1zM581 180h1v1h-1zM948 180h1v1h-1zM48 181h1v1h-1zM458 181h1v1h-1zM581 181h1v1h-1zM948 181h1v1h-1zM48 182h1v1h-1zM458 182h1v1h-1zM581 182h1v1h-1zM948 182h1v1h-1zM47 183h1v1h-1zM459 183h1v1h-1zM582 183h1v1h-1zM948 183h1v1h-1zM47 184h1v1h-1zM459 184h1v1h-1zM582 184h1v1h-1zM947 184h2v1h-2zM47 185h1v1h-1zM459 185h1v1h-1zM582 185h1v1h-1zM947 185h1v1h-1zM46 186h1v1h-1zM460 186h1v1h-1zM582 186h2v1h-2zM947 186h1v1h-1zM46 187h1v1h-1zM460 187h1v1h-1zM583 187h1v1h-1zM947 187h1v1h-1zM46 188h1v1h-1zM460 188h1v1h-1zM583 188h1v1h-1zM947 188h1v1h-1zM46 189h1v1h-1zM460 189h1v1h-1zM583 189h2v1h-2zM946 189h1v1h-1zM45 190h1v1h-1zM461 190h1v1h-1zM584 190h1v1h-1zM946 190h1v1h-1zM45 191h1v1h-1zM461 191h1v1h-1zM584 191h1v1h-1zM946 191h1v1h-1zM45 192h1v1h-1zM461 192h1v1h-1zM584 192h2v1h-2zM945 192h2v1h-2zM44 193h1v1h-1zM461 193h1v1h-1zM585 193h1v1h-1zM945 193h1v1h-1zM44 194h1v1h-1zM462 194h1v1h-1zM585 194h2v1h-2zM944 194h2v1h-2zM44 195h1v1h-1zM462 195h1v1h-1zM586 195h1v1h-1zM944 195h1v1h-1zM44 196h1v1h-1zM462 196h1v1h-1zM586 196h1v1h-1zM944 196h1v1h-1zM43 197h1v1h-1zM463 197h1v1h-1zM587 197h1v1h-1zM943 197h1v1h-1zM43 198h1v1h-1zM463 198h1v1h-1zM587 198h1v1h-1zM943 198h1v1h-1zM43 199h1v1h-1zM463 199h1v1h-1zM588 199h1v1h-1zM942 199h1v1h-1zM43 200h1v1h-1zM463 200h1v1h-1zM588 200h1v1h-1zM941 200h2v1h-2zM42 201h1v1h-1zM464 201h1v1h-1zM589 201h1v1h-1zM941 201h1v1h-1zM42 202h1v1h-1zM464 202h1v1h-1zM590 202h1v1h-1zM940 202h2v1h-2zM42 203h1v1h-1zM464 203h1v1h-1zM590 203h1v1h-1zM940 203h1v1h-1zM42 204h1v1h-1zM464 204h1v1h-1zM591 204h1v1h-1zM939 204h2v1h-2zM41 205h1v1h-1zM464 205h1v1h-1zM591 205h2v1h-2zM938 205h2v1h-2zM41 206h1v1h-1zM465 206h1v1h-1zM592 206h2v1h-2zM937 206h2v1h-2zM41 207h1v1h-1zM465 207h1v1h-1zM593 207h1v1h-1zM937 207h1v1h-1zM41 208h1v1h-1zM465 208h1v1h-1zM594 208h1v1h-1zM936 208h1v1h-1zM41 209h1v1h-1zM465 209h1v1h-1zM595 209h1v1h-1zM935 209h1v1h-1zM41 210h1v1h-1zM465 210h1v1h-1zM595 210h2v1h-2zM934 210h1v1h-1zM40 211h1v1h-1zM465 211h1v1h-1zM596 211h2v1h-2zM933 211h1v1h-1zM40 212h1v1h-1zM466 212h1v1h-1zM597 212h2v1h-2zM932 212h1v1h-1zM40 213h1v1h-1zM466 213h1v1h-1zM598 213h2v1h-2zM930 213h2v1h-2zM40 214h1v1h-1zM466 214h1v1h-1zM599 214h2v1h-2zM929 214h2v1h-2zM40 215h1v1h-1zM466 215h1v1h-1zM600 215h2v1h-2zM928 215h2v1h-2zM40 216h1v1h-1zM466 216h1v1h-1zM601 216h2v1h-2zM927 216h1v1h-1zM39 217h1v1h-1zM466 217h1v1h-1zM603 217h1v1h-1zM925 217h2v1h-2zM39 218h1v1h-1zM467 218h1v1h-1zM604 218h2v1h-2zM923 218h3v1h-3zM39 219h1v1h-1zM467 219h1v1h-1zM605 219h2v1h-2zM922 219h2v1h-2zM39 220h1v1h-1zM467 220h1v1h-1zM607 220h2v1h-2zM920 220h2v1h-2zM39 221h1v1h-1zM467 221h1v1h-1zM608 221h3v1h-3zM918 221h2v1h-2zM39 222h1v1h-1zM467 222h1v1h-1zM610 222h2v1h-2zM916 222h3v1h-3zM39 223h1v1h-1zM467 223h1v1h-1zM612 223h2v1h-2zM914 223h3v1h-3zM39 224h1v1h-1zM467 224h1v1h-1zM613 224h3v1h-3zM912 224h3v1h-3zM39 225h1v1h-1zM467 225h1v1h-1zM616 225h2v1h-2zM910 225h3v1h-3zM39 226h1v1h-1zM467 226h1v1h-1zM618 226h3v1h-3zM908 226h2v1h-2zM39 227h1v1h-1zM467 227h1v1h-1zM621 227h3v1h-3zM904 227h4v1h-4zM39 228h1v1h-1zM467 228h1v1h-1zM623 228h3v1h-3zM902 228h3v1h-3zM39 229h1v1h-1zM467 229h1v1h-1zM626 229h3v1h-3zM899 229h3v1h-3zM39 230h1v1h-1zM468 230h1v1h-1zM629 230h4v1h-4zM895 230h4v1h-4zM39 231h1v1h-1zM468 231h1v1h-1zM633 231h5v1h-5zM891 231h4v1h-4zM39 232h1v1h-1zM468 232h1v1h-1zM637 232h5v1h-5zM886 232h6v1h-6zM39 233h1v1h-1zM468 233h1v1h-1zM641 233h7v1h-7zM880 233h7v1h-7zM39 234h1v1h-1zM468 234h1v1h-1zM647 234h7v1h-7zM874 234h7v1h-7zM39 235h1v1h-1zM468 235h1v1h-1zM654 235h10v1h-10zM864 235h10v1h-10zM39 236h1v1h-1zM468 236h1v1h-1zM663 236h14v1h-14zM850 236h15v1h-15zM39 237h1v1h-1zM468 237h1v1h-1zM676 237h14v1h-14zM840 237h11v1h-11zM39 238h1v1h-1zM468 238h1v1h-1zM39 239h1v1h-1zM468 239h1v1h-1zM39 240h1v1h-1zM468 240h1v1h-1zM39 241h1v1h-1zM468 241h1v1h-1zM39 242h1v1h-1zM468 242h1v1h-1zM39 243h1v1h-1zM468 243h1v1h-1zM39 244h1v1h-1zM468 244h1v1h-1zM39 245h1v1h-1zM468 245h1v1h-1zM39 246h1v1h-1zM468 246h1v1h-1zM39 247h1v1h-1zM468 247h1v1h-1zM39 248h1v1h-1zM468 248h1v1h-1zM39 249h1v1h-1zM467 249h1v1h-1zM39 250h1v1h-1zM467 250h1v1h-1zM39 251h1v1h-1zM467 251h1v1h-1zM39 252h1v1h-1zM467 252h1v1h-1zM39 253h1v1h-1zM467 253h1v1h-1zM39 254h1v1h-1zM467 254h1v1h-1zM39 255h1v1h-1zM467 255h1v1h-1zM39 256h1v1h-1zM467 256h1v1h-1zM39 257h1v1h-1zM467 257h1v1h-1zM39 258h1v1h-1zM467 258h1v1h-1zM39 259h1v1h-1zM467 259h1v1h-1zM39 260h1v1h-1zM467 260h1v1h-1zM40 261h1v1h-1zM467 261h1v1h-1zM40 262h1v1h-1zM466 262h1v1h-1zM40 263h1v1h-1zM466 263h1v1h-1zM40 264h1v1h-1zM466 264h1v1h-1zM40 265h1v1h-1zM466 265h1v1h-1zM40 266h1v1h-1zM466 266h1v1h-1zM41 267h1v1h-1zM466 267h1v1h-1zM41 268h1v1h-1zM465 268h1v1h-1zM41 269h1v1h-1zM465 269h1v1h-1zM41 270h1v1h-1zM465 270h1v1h-1zM41 271h1v1h-1zM465 271h1v1h-1zM41 272h1v1h-1zM465 272h1v1h-1zM42 273h1v1h-1zM465 273h1v1h-1zM42 274h1v1h-1zM464 274h1v1h-1zM42 275h1v1h-1zM464 275h1v1h-1zM42 276h1v1h-1zM464 276h1v1h-1zM42 277h1v1h-1zM464 277h1v1h-1zM43 278h1v1h-1zM463 278h1v1h-1zM43 279h1v1h-1zM463 279h1v1h-1zM43 280h1v1h-1zM463 280h1v1h-1zM43 281h1v1h-1zM463 281h1v1h-1zM44 282h1v1h-1zM462 282h1v1h-1zM44 283h1v1h-1zM462 283h1v1h-1zM44 284h1v1h-1zM462 284h1v1h-1zM45 285h1v1h-1zM462 285h1v1h-1zM45 286h1v1h-1zM461 286h1v1h-1zM45 287h1v1h-1zM461 287h1v1h-1zM45 288h1v1h-1zM461 288h1v1h-1zM46 289h1v1h-1zM460 289h1v1h-1zM46 290h1v1h-1zM460 290h1v1h-1zM46 291h1v1h-1zM460 291h1v1h-1zM46 292h1v1h-1zM460 292h1v1h-1zM47 293h1v1h-1zM459 293h1v1h-1zM47 294h1v1h-1zM459 294h1v1h-1zM47 295h1v1h-1zM459 295h1v1h-1zM48 296h1v1h-1zM458 296h1v1h-1zM48 297h1v1h-1zM458 297h1v1h-1zM48 298h1v1h-1zM458 298h1v1h-1zM49 299h1v1h-1zM457 299h1v1h-1zM49 300h1v1h-1zM457 300h1v1h-1zM49 301h1v1h-1zM457 301h1v1h-1zM50 302h1v1h-1zM456 302h1v1h-1zM50 303h1v1h-1zM456 303h1v1h-1zM50 304h1v1h-1zM456 304h1v1h-1zM51 305h1v1h-1zM455 305h1v1h-1zM51 306h1v1h-1zM455 306h1v1h-1zM51 307h1v1h-1zM455 307h1v1h-1zM52 308h1v1h-1zM454 308h1v1h-1zM52 309h1v1h-1zM454 309h1v1h-1zM52 310h1v1h-1zM454 310h1v1h-1zM53 311h1v1h-1zM453 311h1v1h-1zM53 312h1v1h-1zM453 312h1v1h-1zM54 313h1v1h-1zM453 313h1v1h-1zM54 314h1v1h-1zM452 314h1v1h-1zM55 315h1v1h-1zM452 315h1v1h-1zM55 316h1v1h-1zM451 316h1v1h-1zM56 317h1v1h-1zM451 317h1v1h-1zM56 318h1v1h-1zM450 318h1v1h-1zM57 319h1v1h-1zM450 319h1v1h-1zM57 320h1v1h-1zM449 320h1v1h-1zM58 321h1v1h-1zM449 321h1v1h-1zM58 322h1v1h-1zM448 322h1v1h-1zM59 323h1v1h-1zM448 323h1v1h-1zM59 324h1v1h-1zM447 324h1v1h-1zM60 325h1v1h-1zM447 325h1v1h-1zM60 326h1v1h-1zM446 326h1v1h-1zM61 327h1v1h-1zM446 327h1v1h-1zM61 328h1v1h-1zM445 328h1v1h-1zM62 329h1v1h-1zM444 329h1v1h-1zM62 330h1v1h-1zM444 330h1v1h-1zM63 331h1v1h-1zM443 331h1v1h-1zM64 332h1v1h-1zM443 332h1v1h-1zM64 333h1v1h-1zM442 333h1v1h-1zM65 334h1v1h-1zM441 334h1v1h-1zM65 335h1v1h-1zM441 335h1v1h-1zM66 336h1v1h-1zM440 336h1v1h-1zM67 337h1v1h-1zM439 337h1v1h-1zM67 338h1v1h-1zM439 338h1v1h-1zM68 339h1v1h-1zM438 339h1v1h-1zM69 340h1v1h-1zM438 340h1v1h-1zM69 341h1v1h-1zM437 341h1v1h-1zM70 342h1v1h-1zM436 342h1v1h-1zM70 343h1v1h-1zM436 343h1v1h-1zM71 344h1v1h-1zM435 344h1v1h-1zM72 345h1v1h-1zM434 345h1v1h-1zM72 346h1v1h-1zM434 346h1v1h-1zM73 347h1v1h-1zM433 347h1v1h-1zM74 348h1v1h-1zM432 348h1v1h-1zM75 349h1v1h-1zM431 349h1v1h-1zM75 350h1v1h-1zM431 350h1v1h-1zM76 351h1v1h-1zM430 351h1v1h-1zM77 352h1v1h-1zM429 352h1v1h-1zM78 353h1v1h-1zM428 353h1v1h-1zM78 354h1v1h-1zM428 354h1v1h-1zM79 355h1v1h-1zM427 355h1v1h-1zM80 356h1v1h-1zM426 356h1v1h-1zM81 357h1v1h-1zM425 357h1v1h-1zM81 358h1v1h-1zM425 358h1v1h-1zM82 359h1v1h-1zM424 359h1v1h-1zM83 360h1v1h-1zM423 360h1v1h-1zM84 361h1v1h-1zM422 361h1v1h-1zM85 362h1v1h-1zM421 362h1v1h-1zM86 363h1v1h-1zM420 363h1v1h-1zM87 364h1v1h-1zM419 364h1v1h-1zM88 365h1v1h-1zM418 365h1v1h-1zM88 366h1v1h-1zM418 366h1v1h-1zM89 367h1v1h-1zM417 367h1v1h-1zM90 368h1v1h-1zM416 368h1v1h-1zM91 369h1v1h-1zM415 369h1v1h-1zM92 370h1v1h-1zM414 370h1v1h-1zM93 371h1v1h-1zM413 371h1v1h-1zM94 372h1v1h-1zM412 372h1v1h-1zM95 373h1v1h-1zM411 373h1v1h-1zM96 374h1v1h-1zM410 374h1v1h-1zM97 375h1v1h-1zM409 375h1v1h-1zM98 376h1v1h-1zM408 376h1v1h-1zM99 377h1v1h-1zM407 377h1v1h-1zM100 378h1v1h-1zM406 378h1v1h-1zM101 379h1v1h-1zM405 379h1v1h-1zM102 380h1v1h-1zM404 380h1v1h-1zM103 381h1v1h-1zM403 381h1v1h-1zM104 382h1v1h-1zM402 382h1v1h-1zM105 383h1v1h-1zM401 383h1v1h-1zM106 384h1v1h-1zM400 384h1v1h-1zM107 385h1v1h-1zM399 385h1v1h-1zM108 386h2v1h-2zM397 386h2v1h-2zM110 387h1v1h-1zM396 387h1v1h-1zM111 388h2v1h-2zM394 388h2v1h-2zM113 389h1v1h-1zM393 389h1v1h-1zM114 390h2v1h-2zM391 390h2v1h-2zM116 391h1v1h-1zM390 391h1v1h-1zM117 392h2v1h-2zM388 392h2v1h-2zM119 393h1v1h-1zM387 393h1v1h-1zM120 394h2v1h-2zM385 394h2v1h-2zM122 395h1v1h-1zM384 395h1v1h-1zM123 396h2v1h-2zM382 396h2v1h-2zM125 397h1v1h-1zM381 397h1v1h-1zM126 398h2v1h-2zM379 398h2v1h-2zM128 399h1v1h-1zM378 399h1v1h-1zM129 400h2v1h-2zM376 400h2v1h-2zM131 401h1v1h-1zM375 401h1v1h-1zM132 402h2v1h-2zM373 402h2v1h-2zM134 403h1v1h-1zM372 403h1v1h-1zM135 404h2v1h-2zM370 404h2v1h-2zM137 405h1v1h-1zM369 405h1v1h-1zM138 406h2v1h-2zM367 406h2v1h-2zM140 407h2v1h-2zM365 407h2v1h-2zM142 408h2v1h-2zM363 408h2v1h-2zM144 409h2v1h-2zM361 409h2v1h-2zM146 410h2v1h-2zM359 410h2v1h-2zM148 411h2v1h-2zM357 411h2v1h-2zM150 412h2v1h-2zM355 412h2v1h-2zM152 413h2v1h-2zM353 413h2v1h-2zM154 414h2v1h-2zM351 414h2v1h-2zM156 415h3v1h-3zM348 415h3v1h-3zM159 416h2v1h-2zM346 416h2v1h-2zM161 417h2v1h-2zM344 417h2v1h-2zM163 418h3v1h-3zM341 418h3v1h-3zM166 419h2v1h-2zM339 419h2v1h-2zM168 420h3v1h-3zM336 420h3v1h-3zM171 421h3v1h-3zM333 421h3v1h-3zM174 422h3v1h-3zM329 422h4v1h-4zM177 423h4v1h-4zM326 423h3v1h-3zM181 424h3v1h-3zM323 424h3v1h-3zM184 425h3v1h-3zM320 425h3v1h-3zM187 426h4v1h-4zM316 426h4v1h-4zM191 427h3v1h-3zM313 427h3v1h-3zM194 428h3v1h-3zM310 428h3v1h-3zM197 429h4v1h-4zM306 429h4v1h-4zM201 430h4v1h-4zM302 430h4v1h-4zM205 431h6v1h-6zM296 431h6v1h-6zM211 432h6v1h-6zM290 432h6v1h-6zM217 433h11v1h-11zM279 433h11v1h-11zM228 434h17v1h-17zM262 434h17v1h-17zM245 435h17v1h-17z"/>
<path fill="#80ff00" d="M756 61h22v1h-22zM744 62h12v1h-12zM778 62h11v1h-11zM737 63h8v1h-8zM789 63h7v1h-7zM731 64h6v1h-6zM796 64h6v1h-6zM727 65h5v1h-5zM801 65h6v1h-6zM722 66h5v1h-5zM806 66h5v1h-5zM718 67h5v1h-5zM810 67h5v1h-5zM714 68h4v1h-4zM814 68h4v1h-4zM711 69h4v1h-4zM818 69h3v1h-3zM708 70h4v1h-4zM821 70h3v1h-3zM705 71h3v1h-3zM824 71h3v1h-3zM702 72h3v1h-3zM827 72h3v1h-3zM700 73h2v1h-2zM830 73h3v1h-3zM697 74h3v1h-3zM832 74h3v1h-3zM695 75h3v1h-3zM834 75h3v1h-3zM239 76h29v1h-29zM692 76h3v1h-3zM837 76h3v1h-3zM228 77h11v1h-11zM268 77h11v1h-11zM690 77h3v1h-3zM839 77h3v1h-3zM221 78h7v1h-7zM279 78h7v1h-7zM687 78h3v1h-3zM842 78h2v1h-2zM215 79h6v1h-6zM286 79h6v1h-6zM686 79h2v1h-2zM843 79h3v1h-3zM210 80h6v1h-6zM291 80h6v1h-6zM684 80h2v1h-2zM846 80h2v1h-2zM206 81h5v1h-5zM296 81h5v1h-5zM681 81h3v1h-3zM848 81h2v1h-2zM202 82h4v1h-4zM301 82h4v1h-4zM680 82h2v1h-2zM850 82h2v1h-2zM198 83h4v1h-4zM305 83h4v1h-4zM678 83h2v1h-2zM851 83h3v1h-3zM194 84h4v1h-4zM309 84h4v1h-4zM676 84h2v1h-2zM853 84h3v1h-3zM192 85h3v1h-3zM312 85h3v1h-3zM674 85h2v1h-2zM855 85h2v1h-2zM188 86h4v1h-4zM315 86h4v1h-4zM672 86h3v1h-3zM857 86h2v1h-2zM185 87h4v1h-4zM318 87h4v1h-4zM671 87h2v1h-2zM858 87h3v1h-3zM183 88h3v1h-3zM321 88h3v1h-3zM669 88h2v1h-2zM860 88h2v1h-2zM180 89h3v1h-3zM324 89h3v1h-3zM667 89h3v1h-3zM862 89h2v1h-2zM177 90h3v1h-3zM327 90h3v1h-3zM666 90h2v1h-2zM863 90h2v1h-2zM175 91h3v1h-3zM329 91h3v1h-3zM664 91h3v1h-3zM865 91h2v1h-2zM173 92h3v1h-3zM331 92h3v1h-3zM663 92h2v1h-2zM866 92h2v1h-2zM171 93h2v1h-2zM334 93h2v1h-2zM661 93h3v1h-3zM868 93h2v1h-2zM169 94h2v1h-2zM336 94h2v1h-2zM660 94h2v1h-2zM869 94h2v1h-2zM167 95h2v1h-2zM338 95h2v1h-2zM659 95h2v1h-2zM871 95h1v1h-1zM165 96h2v1h-2zM340 96h2v1h-2zM658 96h1v1h-1zM872 96h2v1h-2zM163 97h2v1h-2zM342 97h2v1h-2zM656 97h2v1h-2zM873 97h2v1h-2zM161 98h2v1h-2zM344 98h2v1h-2zM655 98h1v1h-1zM874 98h2v1h-2zM159 99h2v1h-2zM346 99h2v1h-2zM653 99h2v1h-2zM876 99h2v1h-2zM157 100h2v1h-2zM348 100h2v1h-2zM652 100h2v1h-2zM877 100h2v1h-2zM155 101h2v1h-2zM350 101h2v1h-2zM651 101h2v1h-2zM878 101h2v1h-2zM154 102h1v1h-1zM352 102h1v1h-1zM650 102h2v1h-2zM879 102h2v1h-2zM152 103h2v1h-2zM353 103h2v1h-2zM649 103h1v1h-1zM881 103h1v1h-1zM150 104h2v1h-2zM355 104h2v1h-2zM647 104h2v1h-2zM882 104h2v1h-2zM149 105h2v1h-2zM356 105h2v1h-2zM646 105h2v1h-2zM883 105h2v1h-2zM147 106h2v1h-2zM358 106h2v1h-2zM645 106h2v1h-2zM884 106h2v1h-2zM145 107h3v1h-3zM359 107h3v1h-3zM644 107h2v1h-2zM885 107h2v1h-2zM144 108h2v1h-2zM361 108h2v1h-2zM643 108h2v1h-2zM886 108h2v1h-2zM142 109h3v1h-3zM362 109h3v1h-3zM642 109h2v1h-2zM888 109h1v1h-1zM141 110h2v1h-2zM364 110h2v1h-2zM641 110h2v1h-2zM888 110h2v1h-2zM140 111h2v1h-2zM365 111h2v1h-2zM640 111h2v1h-2zM889 111h2v1h-2zM139 112h1v1h-1zM367 112h1v1h-1zM639 112h2v1h-2zM891 112h1v1h-1zM137 113h2v1h-2zM368 113h2v1h-2zM638 113h2v1h-2zM891 113h2v1h-2zM136 114h1v1h-1zM370 114h1v1h-1zM637 114h2v1h-2zM892 114h2v1h-2zM135 115h1v1h-1zM371 115h1v1h-1zM636 115h2v1h-2zM894 115h1v1h-1zM133 116h2v1h-2zM372 116h2v1h-2zM635 116h2v1h-2zM894 116h2v1h-2zM132 117h2v1h-2zM373 117h2v1h-2zM635 117h1v1h-1zM895 117h2v1h-2zM131 118h2v1h-2zM374 118h2v1h-2zM633 118h2v1h-2zM896 118h2v1h-2zM130 119h2v1h-2zM375 119h2v1h-2zM633 119h1v1h-1zM897 119h2v1h-2zM129 120h1v1h-1zM377 120h1v1h-1zM632 120h1v1h-1zM898 120h2v1h-2zM128 121h1v1h-1zM378 121h1v1h-1zM631 121h1v1h-1zM899 121h1v1h-1zM127 122h1v1h-1zM379 122h1v1h-1zM630 122h2v1h-2zM900 122h1v1h-1zM125 123h2v1h-2zM380 123h2v1h-2zM629 123h2v1h-2zM900 123h2v1h-2zM124 124h2v1h-2zM381 124h2v1h-2zM628 124h2v1h-2zM901 124h2v1h-2zM123 125h2v1h-2zM382 125h2v1h-2zM628 125h1v1h-1zM902 125h2v1h-2zM122 126h2v1h-2zM383 126h2v1h-2zM627 126h2v1h-2zM903 126h1v1h-1zM121 127h2v1h-2zM384 127h2v1h-2zM626 127h2v1h-2zM904 127h1v1h-1zM120 128h2v1h-2zM385 128h2v1h-2zM626 128h1v1h-1zM904 128h2v1h-2zM119 129h1v1h-1zM387 129h1v1h-1zM625 129h1v1h-1zM905 129h2v1h-2zM118 130h1v1h-1zM388 130h1v1h-1zM624 130h1v1h-1zM906 130h1v1h-1zM117 131h2v1h-2zM388 131h2v1h-2zM624 131h1v1h-1zM906 131h2v1h-2zM116 132h2v1h-2zM389 132h2v1h-2zM623 132h1v1h-1zM907 132h2v1h-2zM115 133h2v1h-2zM390 133h2v1h-2zM622 133h1v1h-1zM908 133h1v1h-1zM114 134h2v1h-2zM391 134h2v1h-2zM621 134h2v1h-2zM908 134h2v1h-2zM114 135h1v1h-1zM392 135h1v1h-1zM621 135h1v1h-1zM909 135h2v1h-2zM113 136h1v1h-1zM393 136h1v1h-1zM620 136h1v1h-1zM910 136h1v1h-1zM112 137h1v1h-1zM394 137h1v1h-1zM619 137h2v1h-2zM910 137h2v1h-2zM111 138h1v1h-1zM395 138h1v1h-1zM619 138h1v1h-1zM911 138h1v1h-1zM110 139h1v1h-1zM396 139h1v1h-1zM618 139h2v1h-2zM912 139h1v1h-1zM109 140h2v1h-2zM396 140h2v1h-2zM618 140h1v1h-1zM912 140h1v1h-1zM108 141h2v1h-2zM397 141h2v1h-2zM617 141h1v1h-1zM913 141h1v1h-1zM108 142h1v1h-1zM398 142h1v1h-1zM616 142h2v1h-2zM913 142h1v1h-1zM107 143h1v1h-1zM399 143h1v1h-1zM616 143h1v1h-1zM914 143h1v1h-1zM106 144h1v1h-1zM400 144h1v1h-1zM615 144h2v1h-2zM914 144h2v1h-2zM106 145h1v1h-1zM400 145h1v1h-1zM615 145h1v1h-1zM915 145h1v1h-1zM105 146h1v1h-1zM401 146h1v1h-1zM614 146h1v1h-1zM915 146h2v1h-2zM104 147h1v1h-1zM402 147h1v1h-1zM614 147h1v1h-1zM916 147h1v1h-1zM103 148h2v1h-2zM402 148h2v1h-2zM613 148h2v1h-2zM916 148h1v1h-1zM102 149h2v1h-2zM403 149h2v1h-2zM613 149h1v1h-1zM917 149h1v1h-1zM102 150h1v1h-1zM404 150h1v1h-1zM612 150h2v1h-2zM917 150h1v1h-1zM101 151h2v1h-2zM404 151h2v1h-2zM612 151h1v1h-1zM918 151h1v1h-1zM101 152h1v1h-1zM405 152h1v1h-1zM612 152h1v1h-1zM918 152h1v1h-1zM100 153h1v1h-1zM406 153h1v1h-1zM611 153h1v1h-1zM918 153h1v1h-1zM99 154h1v1h-1zM407 154h1v1h-1zM611 154h1v1h-1zM919 154h1v1h-1zM99 155h1v1h-1zM407 155h1v1h-1zM610 155h2v1h-2zM919 155h1v1h-1zM98 156h1v1h-1zM408 156h1v1h-1zM610 156h1v1h-1zM919 156h1v1h-1zM97 157h1v1h-1zM409 157h1v1h-1zM610 157h1v1h-1zM920 157h1v1h-1zM97 158h1v1h-1zM409 158h1v1h-1zM609 158h2v1h-2zM920 158h1v1h-1zM96 159h1v1h-1zM410 159h1v1h-1zM609 159h1v1h-1zM920 159h1v1h-1zM95 160h2v1h-2zM410 160h2v1h-2zM609 160h1v1h-1zM921 160h1v1h-1zM95 161h1v1h-1zM411 161h1v1h-1zM608 161h2v1h-2zM921 161h1v1h-1zM94 162h2v1h-2zM411 162h2v1h-2zM608 162h1v1h-1zM921 162h1v1h-1zM94 163h1v1h-1zM412 163h1v1h-1zM608 163h1v1h-1zM921 163h1v1h-1zM93 164h1v1h-1zM413 164h1v1h-1zM608 164h1v1h-1zM921 164h2v1h-2zM93 165h1v1h-1zM413 165h1v1h-1zM607 165h1v1h-1zM922 165h1v1h-1zM92 166h1v1h-1zM414 166h1v1h-1zM607 166h1v1h-1zM922 166h1v1h-1zM92 167h1v1h-1zM414 167h1v1h-1zM607 167h1v1h-1zM922 167h1v1h-1zM91 168h1v1h-1zM415 168h1v1h-1zM607 168h1v1h-1zM922 168h1v1h-1zM91 169h1v1h-1zM415 169h1v1h-1zM607 169h1v1h-1zM922 169h1v1h-1zM90 170h1v1h-1zM416 170h1v1h-1zM606 170h1v1h-1zM922 170h1v1h-1zM90 171h1v1h-1zM416 171h1v1h-1zM606 171h1v1h-1zM923 171h1v1h-1zM89 172h1v1h-1zM417 172h1v1h-1zM606 172h1v1h-1zM923 172h1v1h-1zM89 173h1v1h-1zM417 173h1v1h-1zM606 173h1v1h-1zM923 173h1v1h-1zM88 174h1v1h-1zM418 174h1v1h-1zM606 174h1v1h-1zM923 174h1v1h-1zM88 175h1v1h-1zM418 175h1v1h-1zM606 175h1v1h-1zM923 175h1v1h-1zM87 176h2v1h-2zM418 176h2v1h-2zM606 176h1v1h-1zM923 176h1v1h-1zM87 177h1v1h-1zM419 177h1v1h-1zM606 177h1v1h-1zM923 177h1v1h-1zM86 178h2v1h-2zM419 178h2v1h-2zM606 178h1v1h-1zM923 178h1v1h-1zM86 179h1v1h-1zM420 179h1v1h-1zM606 179h1v1h-1zM923 179h1v1h-1zM85 180h2v1h-2zM420 180h2v1h-2zM606 180h1v1h-1zM923 180h1v1h-1zM85 181h1v1h-1zM421 181h1v1h-1zM606 181h1v1h-1zM923 181h1v1h-1zM85 182h1v1h-1zM421 182h1v1h-1zM606 182h1v1h-1zM923 182h1v1h-1zM84 183h2v1h-2zM421 183h2v1h-2zM606 183h1v1h-1zM923 183h1v1h-1zM84 184h1v1h-1zM422 184h1v1h-1zM606 184h1v1h-1zM923 184h1v1h-1zM84 185h1v1h-1zM422 185h1v1h-1zM606 185h1v1h-1zM923 185h1v1h-1zM83 186h2v1h-2zM422 186h2v1h-2zM606 186h1v1h-1zM922 186h1v1h-1zM83 187h1v1h-1zM423 187h1v1h-1zM606 187h1v1h-1zM922 187h1v1h-1zM82 188h2v1h-2zM423 188h2v1h-2zM606 188h2v1h-2zM922 188h1v1h-1zM82 189h1v1h-1zM424 189h1v1h-1zM607 189h1v1h-1zM922 189h1v1h-1zM82 190h1v1h-1zM424 190h1v1h-1zM607 190h1v1h-1zM922 190h1v1h-1zM81 191h2v1h-2zM424 191h2v1h-2zM607 191h1v1h-1zM922 191h1v1h-1zM81 192h1v1h-1zM425 192h1v1h-1zM607 192h1v1h-1zM921 192h1v1h-1zM81 193h1v1h-1zM425 193h1v1h-1zM607 193h2v1h-2zM921 193h1v1h-1zM81 194h1v1h-1zM425 194h1v1h-1zM608 194h1v1h-1zM921 194h1v1h-1zM80 195h1v1h-1zM426 195h1v1h-1zM608 195h1v1h-1zM921 195h1v1h-1zM80 196h1v1h-1zM426 196h1v1h-1zM608 196h1v1h-1zM920 196h1v1h-1zM80 197h1v1h-1zM426 197h1v1h-1zM609 197h1v1h-1zM920 197h1v1h-1zM79 198h1v1h-1zM427 198h1v1h-1zM609 198h1v1h-1zM920 198h1v1h-1zM79 199h1v1h-1zM427 199h1v1h-1zM609 199h1v1h-1zM919 199h1v1h-1zM79 200h1v1h-1zM427 200h1v1h-1zM610 200h1v1h-1zM919 200h1v1h-1zM79 201h1v1h-1zM427 201h1v1h-1zM610 201h1v1h-1zM919 201h1v1h-1zM79 202h1v1h-1zM427 202h1v1h-1zM610 202h2v1h-2zM918 202h2v1h-2zM78 203h1v1h-1zM428 203h1v1h-1zM611 203h1v1h-1zM918 203h1v1h-1zM78 204h1v1h-1zM428 204h1v1h-1zM611 204h2v1h-2zM917 204h2v1h-2zM78 205h1v1h-1zM428 205h1v1h-1zM612 205h1v1h-1zM917 205h1v1h-1zM77 206h2v1h-2zM428 206h2v1h-2zM613 206h1v1h-1zM916 206h2v1h-2zM77 207h1v1h-1zM429 207h1v1h-1zM613 207h1v1h-1zM916 207h1v1h-1zM77 208h1v1h-1zM429 208h1v1h-1zM614 208h1v1h-1zM915 208h2v1h-2zM77 209h1v1h-1zM429 209h1v1h-1zM614 209h2v1h-2zM915 209h1v1h-1zM77 210h1v1h-1zM429 210h1v1h-1zM615 210h1v1h-1zM914 210h2v1h-2zM77 211h1v1h-1zM429 211h1v1h-1zM616 211h1v1h-1zM914 211h1v1h-1zM76 212h1v1h-1zM430 212h1v1h-1zM616 212h2v1h-2zM913 212h1v1h-1zM76 213h1v1h-1zM430 213h1v1h-1zM617 213h1v1h-1zM912 213h2v1h-2zM76 214h1v1h-1zM430 214h1v1h-1zM618 214h1v1h-1zM912 214h1v1h-1zM76 215h1v1h-1zM430 215h1v1h-1zM619 215h1v1h-1zM911 215h1v1h-1zM76 216h1v1h-1zM430 216h1v1h-1zM620 216h2v1h-2zM910 216h1v1h-1zM76 217h1v1h-1zM430 217h1v1h-1zM621 217h1v1h-1zM909 217h2v1h-2zM75 218h1v1h-1zM431 218h1v1h-1zM622 218h1v1h-1zM908 218h2v1h-2zM75 219h1v1h-1zM431 219h1v1h-1zM623 219h2v1h-2zM907 219h1v1h-1zM75 220h1v1h-1zM431 220h1v1h-1zM624 220h2v1h-2zM906 220h2v1h-2zM75 221h1v1h-1zM431 221h1v1h-1zM626 221h1v1h-1zM905 221h2v1h-2zM75 222h1v1h-1zM431 222h1v1h-1zM627 222h2v1h-2zM903 222h2v1h-2zM75 223h1v1h-1zM431 223h1v1h-1zM629 223h2v1h-2zM902 223h2v1h-2zM75 224h1v1h-1zM431 224h1v1h-1zM630 224h3v1h-3zM900 224h2v1h-2zM75 225h1v1h-1zM431 225h1v1h-1zM632 225h3v1h-3zM898 225h3v1h-3zM75 226h1v1h-1zM431 226h1v1h-1zM634 226h2v1h-2zM895 226h3v1h-3zM74 227h2v1h-2zM431 227h2v1h-2zM636 227h3v1h-3zM892 227h4v1h-4zM74 228h1v1h-1zM432 228h1v1h-1zM638 228h3v1h-3zM889 228h4v1h-4zM74 229h1v1h-1zM432 229h1v1h-1zM641 229h3v1h-3zM884 229h5v1h-5zM74 230h1v1h-1zM432 230h1v1h-1zM644 230h4v1h-4zM880 230h5v1h-5zM74 231h1v1h-1zM432 231h1v1h-1zM647 231h5v1h-5zM875 231h5v1h-5zM74 232h1v1h-1zM432 232h1v1h-1zM651 232h5v1h-5zM869 232h6v1h-6zM74 233h1v1h-1zM432 233h1v1h-1zM655 233h5v1h-5zM863 233h7v1h-7zM74 234h1v1h-1zM432 234h1v1h-1zM660 234h7v1h-7zM857 234h7v1h-7zM74 235h1v1h-1zM432 235h1v1h-1zM666 235h8v1h-8zM848 235h9v1h-9zM74 236h1v1h-1zM432 236h1v1h-1zM674 236h12v1h-12zM838 236h11v1h-11zM74 237h1v1h-1zM432 237h1v1h-1zM685 237h40v1h-40zM824 237h14v1h-14zM74 238h1v1h-1zM432 238h1v1h-1zM725 238h34v1h-34zM772 238h52v1h-52zM74 239h1v1h-1zM432 239h1v1h-1zM759 239h13v1h-13zM74 240h1v1h-1zM432 240h1v1h-1zM74 241h1v1h-1zM432 241h1v1h-1zM74 242h1v1h-1zM432 242h1v1h-1zM74 243h1v1h-1zM432 243h1v1h-1zM74 244h1v1h-1zM432 244h1v1h-1zM74 245h1v1h-1zM432 245h1v1h-1zM74 246h1v1h-1zM432 246h1v1h-1zM74 247h1v1h-1zM432 247h1v1h-1zM74 248h1v1h-1zM432 248h1v1h-1zM74 249h1v1h-1zM432 249h1v1h-1zM74 250h1v1h-1zM432 250h1v1h-1zM74 251h2v1h-2zM431 251h2v1h-2zM75 252h1v1h-1zM431 252h1v1h-1zM75 253h1v1h-1zM431 253h1v1h-1zM75 254h1v1h-1zM431 254h1v1h-1zM75 255h1v1h-1zM431 255h1v1h-1zM75 256h1v1h-1zM431 256h1v1h-1zM75 257h1v1h-1zM431 257h1v1h-1zM75 258h1v1h-1zM431 258h1v1h-1zM75 259h1v1h-1zM431 259h1v1h-1zM75 260h1v1h-1zM431 260h1v1h-1zM76 261h1v1h-1zM430 261h1v1h-1zM76 262h1v1h-1zM430 262h1v1h-1zM76 263h1v1h-1zM430 263h1v1h-1zM76 264h1v1h-1zM430 264h1v1h-1zM76 265h1v1h-1zM430 265h1v1h-1zM76 266h1v1h-1zM430 266h1v1h-1zM77 267h1v1h-1zM429 267h1v1h-1zM77 268h1v1h-1zM429 268h1v1h-1zM77 269h1v1h-1zM429 269h1v1h-1zM77 270h1v1h-1zM429 270h1v1h-1zM77 271h1v1h-1zM429 271h1v1h-1zM77 272h2v1h-2zM428 272h2v1h-2zM78 273h1v1h-1zM428 273h1v1h-1zM78 274h1v1h-1zM428 274h1v1h-1zM78 275h1v1h-1zM428 275h1v1h-1zM79 276h1v1h-1zM427 276h1v1h-1zM79 277h1v1h-1zM427 277h1v1h-1zM79 278h1v1h-1zM427 278h1v1h-1zM79 279h1v1h-1zM427 279h1v1h-1zM79 280h1v1h-1zM427 280h1v1h-1zM80 281h1v1h-1zM426 281h1v1h-1zM80 282h1v1h-1zM426 282h1v1h-1zM80 283h1v1h-1zM426 283h1v1h-1zM81 284h1v1h-1zM425 284h1v1h-1zM81 285h1v1h-1zM425 285h1v1h-1zM81 286h1v1h-1zM425 286h1v1h-1zM81 287h2v1h-2zM424 287h2v1h-2zM82 288h1v1h-1zM424 288h1v1h-1zM82 289h1v1h-1zM424 289h1v1h-1zM82 290h2v1h-2zM423 290h2v1h-2zM83 291h1v1h-1zM423 291h1v1h-1zM83 292h2v1h-2zM422 292h2v1h-2zM84 293h1v1h-1zM422 293h1v1h-1zM84 294h1v1h-1zM422 294h1v1h-1zM84 295h2v1h-2zM421 295h2v1h-2zM85 296h1v1h-1zM421 296h1v1h-1zM85 297h1v1h-1zM421 297h1v1h-1zM85 298h2v1h-2zM420 298h2v1h-2zM86 299h1v1h-1zM420 299h1v1h-1zM86 300h2v1h-2zM419 300h2v1h-2zM87 301h1v1h-1zM419 301h1v1h-1zM87 302h2v1h-2zM418 302h2v1h-2zM88 303h1v1h-1zM418 303h1v1h-1zM88 304h1v1h-1zM418 304h1v1h-1zM89 305h1v1h-1zM417 305h1v1h-1zM89 306h1v1h-1zM417 306h1v1h-1zM90 307h1v1h-1zM416 307h1v1h-1zM90 308h1v1h-1zM416 308h1v1h-1zM91 309h1v1h-1zM415 309h1v1h-1zM91 310h1v1h-1zM415 310h1v1h-1zM92 311h1v1h-1zM414 311h1v1h-1zM92 312h1v1h-1zM414 312h1v1h-1zM93 313h1v1h-1zM413 313h1v1h-1zM93 314h1v1h-1zM413 314h1v1h-1zM94 315h1v1h-1zM412 315h1v1h-1zM94 316h2v1h-2zM411 316h2v1h-2zM95 317h1v1h-1zM411 317h1v1h-1zM95 318h2v1h-2zM410 318h2v1h-2zM96 319h1v1h-1zM410 319h1v1h-1zM97 320h1v1h-1zM409 320h1v1h-1zM97 321h1v1h-1zM409 321h1v1h-1zM98 322h1v1h-1zM408 322h1v1h-1zM99 323h1v1h-1zM407 323h1v1h-1zM99 324h1v1h-1zM407 324h1v1h-1zM100 325h1v1h-1zM406 325h1v1h-1zM101 326h1v1h-1zM405 326h1v1h-1zM101 327h2v1h-2zM404 327h2v1h-2zM102 328h1v1h-1zM404 328h1v1h-1zM102 329h2v1h-2zM403 329h2v1h-2zM103 330h2v1h-2zM402 330h2v1h-2zM104 331h1v1h-1zM402 331h1v1h-1zM105 332h1v1h-1zM401 332h1v1h-1zM106 333h1v1h-1zM400 333h1v1h-1zM106 334h1v1h-1zM400 334h1v1h-1zM107 335h1v1h-1zM399 335h1v1h-1zM108 336h1v1h-1zM398 336h1v1h-1zM108 337h2v1h-2zM397 337h2v1h-2zM109 338h2v1h-2zM396 338h2v1h-2zM110 339h1v1h-1zM396 339h1v1h-1zM111 340h1v1h-1zM395 340h1v1h-1zM112 341h1v1h-1zM394 341h1v1h-1zM113 342h1v1h-1zM393 342h1v1h-1zM114 343h1v1h-1zM392 343h1v1h-1zM114 344h2v1h-2zM391 344h2v1h-2zM115 345h2v1h-2zM390 345h2v1h-2zM116 346h2v1h-2zM389 346h2v1h-2zM117 347h2v1h-2zM388 347h2v1h-2zM118 348h1v1h-1zM388 348h1v1h-1zM119 349h1v1h-1zM387 349h1v1h-1zM120 350h2v1h-2zM385 350h2v1h-2zM121 351h2v1h-2zM384 351h2v1h-2zM122 352h2v1h-2zM383 352h2v1h-2zM123 353h2v1h-2zM382 353h2v1h-2zM124 354h2v1h-2zM381 354h2v1h-2zM125 355h2v1h-2zM380 355h2v1h-2zM127 356h1v1h-1zM379 356h1v1h-1zM128 357h1v1h-1zM378 357h1v1h-1zM129 358h1v1h-1zM377 358h1v1h-1zM130 359h2v1h-2zM375 359h2v1h-2zM131 360h2v1h-2zM374 360h2v1h-2zM132 361h2v1h-2zM373 361h2v1h-2zM133 362h2v1h-2zM372 362h2v1h-2zM135 363h1v1h-1zM371 363h1v1h-1zM136 364h1v1h-1zM370 364h1v1h-1zM137 365h2v1h-2zM368 365h2v1h-2zM139 366h1v1h-1zM367 366h1v1h-1zM140 367h2v1h-2zM365 367h2v1h-2zM141 368h2v1h-2zM364 368h2v1h-2zM142 369h3v1h-3zM362 369h3v1h-3zM144 370h2v1h-2zM361 370h2v1h-2zM145 371h3v1h-3zM359 371h3v1h-3zM147 372h2v1h-2zM358 372h2v1h-2zM149 373h2v1h-2zM356 373h2v1h-2zM150 374h2v1h-2zM355 374h2v1h-2zM152 375h2v1h-2zM353 375h2v1h-2zM154 376h1v1h-1zM352 376h1v1h-1zM155 377h2v1h-2zM350 377h2v1h-2zM157 378h2v1h-2zM348 378h2v1h-2zM159 379h2v1h-2zM346 379h2v1h-2zM161 380h2v1h-2zM344 380h2v1h-2zM163 381h2v1h-2zM342 381h2v1h-2zM165 382h2v1h-2zM340 382h2v1h-2zM167 383h2v1h-2zM338 383h2v1h-2zM169 384h2v1h-2zM336 384h2v1h-2zM171 385h2v1h-2zM334 385h2v1h-2zM173 386h3v1h-3zM331 386h3v1h-3zM175 387h3v1h-3zM329 387h3v1h-3zM177 388h3v1h-3zM327 388h3v1h-3zM180 389h3v1h-3zM324 389h3v1h-3zM183 390h3v1h-3zM321 390h3v1h-3zM185 391h4v1h-4zM318 391h4v1h-4zM188 392h4v1h-4zM315 392h4v1h-4zM192 393h3v1h-3zM312 393h3v1h-3zM194 394h4v1h-4zM309 394h4v1h-4zM198 395h4v1h-4zM305 395h4v1h-4zM202 396h4v1h-4zM301 396h4v1h-4zM206 397h5v1h-5zM296 397h5v1h-5zM210 398h6v1h-6zM291 398h6v1h-6zM215 399h6v1h-6zM286 399h6v1h-6zM221 400h7v1h-7zM279 400h7v1h-7zM228 401h11v1h-11zM268 401h11v1h-11zM239 402h29v1h-29z"/>
<path fill="#008000" d="M749 74h34v1h-34zM742 75h8v1h-8zM783 75h7v1h-7zM736 76h7v1h-7zM790 76h6v1h-6zM732 77h5v1h-5zM796 77h5v1h-5zM728 78h5v1h-5zM800 78h5v1h-5zM724 79h5v1h-5zM804 79h4v1h-4zM721 80h4v1h-4zM808 80h4v1h-4zM718 81h4v1h-4zM811 81h4v1h-4zM715 82h4v1h-4zM814 82h4v1h-4zM712 83h4v1h-4zM817 83h3v1h-3zM710 84h3v1h-3zM820 84h3v1h-3zM707 85h4v1h-4zM822 85h3v1h-3zM705 86h3v1h-3zM825 86h3v1h-3zM703 87h3v1h-3zM827 87h3v1h-3zM701 88h3v1h-3zM829 88h3v1h-3zM699 89h3v1h-3zM832 89h2v1h-2zM697 90h2v1h-2zM834 90h2v1h-2zM695 91h2v1h-2zM836 91h2v1h-2zM693 92h2v1h-2zM838 92h2v1h-2zM691 93h3v1h-3zM839 93h3v1h-3zM690 94h2v1h-2zM841 94h2v1h-2zM240 95h27v1h-27zM688 95h2v1h-2zM843 95h2v1h-2zM230 96h10v1h-10zM267 96h10v1h-10zM686 96h2v1h-2zM844 96h3v1h-3zM223 97h7v1h-7zM277 97h7v1h-7zM685 97h2v1h-2zM846 97h2v1h-2zM217 98h6v1h-6zM284 98h6v1h-6zM683 98h2v1h-2zM848 98h2v1h-2zM212 99h6v1h-6zM289 99h6v1h-6zM682 99h2v1h-2zM849 99h2v1h-2zM208 100h5v1h-5zM294 100h5v1h-5zM680 100h2v1h-2zM851 100h2v1h-2zM204 101h4v1h-4zM299 101h4v1h-4zM678 101h3v1h-3zM852 101h2v1h-2zM201 102h4v1h-4zM302 102h4v1h-4zM677 102h2v1h-2zM853 102h2v1h-2zM198 103h4v1h-4zM305 103h4v1h-4zM676 103h2v1h-2zM855 103h2v1h-2zM195 104h3v1h-3zM309 104h3v1h-3zM674 104h2v1h-2zM856 104h2v1h-2zM192 105h3v1h-3zM312 105h3v1h-3zM673 105h2v1h-2zM857 105h2v1h-2zM189 106h3v1h-3zM315 106h3v1h-3zM672 106h1v1h-1zM859 106h1v1h-1zM187 107h2v1h-2zM318 107h2v1h-2zM670 107h2v1h-2zM860 107h2v1h-2zM184 108h3v1h-3zM320 108h3v1h-3zM669 108h2v1h-2zM861 108h2v1h-2zM182 109h3v1h-3zM322 109h3v1h-3zM668 109h2v1h-2zM862 109h2v1h-2zM179 110h3v1h-3zM325 110h3v1h-3zM667 110h1v1h-1zM863 110h2v1h-2zM177 111h3v1h-3zM327 111h3v1h-3zM666 111h1v1h-1zM864 111h2v1h-2zM175 112h3v1h-3zM329 112h3v1h-3zM664 112h2v1h-2zM865 112h2v1h-2zM173 113h3v1h-3zM331 113h3v1h-3zM663 113h2v1h-2zM867 113h1v1h-1zM171 114h2v1h-2zM334 114h2v1h-2zM662 114h2v1h-2zM868 114h1v1h-1zM170 115h2v1h-2zM335 115h2v1h-2zM661 115h2v1h-2zM869 115h1v1h-1zM168 116h2v1h-2zM337 116h2v1h-2zM660 116h1v1h-1zM869 116h2v1h-2zM166 117h2v1h-2zM339 117h2v1h-2zM659 117h1v1h-1zM870 117h2v1h-2zM164 118h3v1h-3zM340 118h3v1h-3zM658 118h1v1h-1zM871 118h2v1h-2zM163 119h2v1h-2zM342 119h2v1h-2zM657 119h1v1h-1zM872 119h2v1h-2zM161 120h2v1h-2zM344 120h2v1h-2zM656 120h1v1h-1zM873 120h2v1h-2zM159 121h3v1h-3zM345 121h3v1h-3zM655 121h1v1h-1zM874 121h2v1h-2zM158 122h2v1h-2zM347 122h2v1h-2zM654 122h1v1h-1zM875 122h1v1h-1zM157 123h1v1h-1zM349 123h1v1h-1zM653 123h2v1h-2zM876 123h1v1h-1zM155 124h2v1h-2zM350 124h2v1h-2zM652 124h2v1h-2zM877 124h1v1h-1zM153 125h2v1h-2zM352 125h2v1h-2zM651 125h2v1h-2zM877 125h2v1h-2zM152 126h2v1h-2zM353 126h2v1h-2zM650 126h2v1h-2zM878 126h2v1h-2zM151 127h2v1h-2zM354 127h2v1h-2zM649 127h2v1h-2zM879 127h1v1h-1zM150 128h1v1h-1zM356 128h1v1h-1zM648 128h2v1h-2zM880 128h1v1h-1zM148 129h2v1h-2zM357 129h2v1h-2zM648 129h1v1h-1zM880 129h2v1h-2zM147 130h2v1h-2zM358 130h2v1h-2zM647 130h2v1h-2zM881 130h2v1h-2zM145 131h3v1h-3zM359 131h3v1h-3zM646 131h2v1h-2zM882 131h1v1h-1zM144 132h2v1h-2zM361 132h2v1h-2zM645 132h2v1h-2zM882 132h2v1h-2zM143 133h2v1h-2zM362 133h2v1h-2zM645 133h1v1h-1zM883 133h2v1h-2zM142 134h2v1h-2zM363 134h2v1h-2zM644 134h1v1h-1zM884 134h1v1h-1zM141 135h2v1h-2zM364 135h2v1h-2zM643 135h2v1h-2zM884 135h2v1h-2zM140 136h1v1h-1zM366 136h1v1h-1zM642 136h2v1h-2zM885 136h2v1h-2zM139 137h1v1h-1zM367 137h1v1h-1zM642 137h1v1h-1zM886 137h1v1h-1zM138 138h1v1h-1zM368 138h1v1h-1zM641 138h2v1h-2zM886 138h2v1h-2zM137 139h1v1h-1zM369 139h1v1h-1zM640 139h2v1h-2zM887 139h1v1h-1zM136 140h2v1h-2zM369 140h2v1h-2zM640 140h1v1h-1zM887 140h2v1h-2zM135 141h1v1h-1zM371 141h1v1h-1zM639 141h2v1h-2zM888 141h1v1h-1zM134 142h1v1h-1zM372 142h1v1h-1zM639 142h1v1h-1zM888 142h2v1h-2zM133 143h1v1h-1zM373 143h1v1h-1zM638 143h2v1h-2zM889 143h2v1h-2zM132 144h1v1h-1zM374 144h1v1h-1zM637 144h2v1h-2zM890 144h1v1h-1zM131 145h1v1h-1zM375 145h1v1h-1zM637 145h1v1h-1zM890 145h1v1h-1zM130 146h1v1h-1zM376 146h1v1h-1zM636 146h2v1h-2zM891 146h1v1h-1zM129 147h2v1h-2zM376 147h2v1h-2zM636 147h1v1h-1zM891 147h1v1h-1zM128 148h2v1h-2zM377 148h2v1h-2zM635 148h2v1h-2zM892 148h1v1h-1zM127 149h2v1h-2zM378 149h2v1h-2zM635 149h1v1h-1zM892 149h1v1h-1zM126 150h2v1h-2zM379 150h2v1h-2zM634 150h2v1h-2zM893 150h1v1h-1zM126 151h1v1h-1zM380 151h1v1h-1zM634 151h1v1h-1zM893 151h1v1h-1zM125 152h1v1h-1zM381 152h1v1h-1zM633 152h2v1h-2zM894 152h1v1h-1zM124 153h1v1h-1zM382 153h1v1h-1zM633 153h1v1h-1zM894 153h1v1h-1zM123 154h2v1h-2zM382 154h2v1h-2zM633 154h1v1h-1zM894 154h2v1h-2zM123 155h1v1h-1zM383 155h1v1h-1zM632 155h1v1h-1zM895 155h1v1h-1zM122 156h1v1h-1zM384 156h1v1h-1zM632 156h1v1h-1zM895 156h2v1h-2zM121 157h1v1h-1zM385 157h1v1h-1zM632 157h1v1h-1zM896 157h1v1h-1zM120 158h2v1h-2zM385 158h2v1h-2zM631 158h1v1h-1zM896 158h1v1h-1zM120 159h1v1h-1zM386 159h1v1h-1zM631 159h1v1h-1zM896 159h2v1h-2zM119 160h1v1h-1zM387 160h1v1h-1zM631 160h1v1h-1zM897 160h1v1h-1zM118 161h2v1h-2zM387 161h2v1h-2zM630 161h1v1h-1zM897 161h1v1h-1zM117 162h2v1h-2zM388 162h2v1h-2zM630 162h1v1h-1zM897 162h2v1h-2zM117 163h1v1h-1zM389 163h1v1h-1zM630 163h1v1h-1zM898 163h1v1h-1zM116 164h1v1h-1zM390 164h1v1h-1zM629 164h2v1h-2zM898 164h1v1h-1zM116 165h1v1h-1zM390 165h1v1h-1zM629 165h1v1h-1zM899 165h1v1h-1zM115 166h1v1h-1zM391 166h1v1h-1zM629 166h1v1h-1zM899 166h1v1h-1zM114 167h1v1h-1zM392 167h1v1h-1zM629 167h1v1h-1zM899 167h1v1h-1zM114 168h1v1h-1zM392 168h1v1h-1zM628 168h2v1h-2zM899 168h2v1h-2zM113 169h1v1h-1zM393 169h1v1h-1zM628 169h1v1h-1zM900 169h1v1h-1zM112 170h2v1h-2zM393 170h2v1h-2zM628 170h1v1h-1zM900 170h1v1h-1zM112 171h1v1h-1zM394 171h1v1h-1zM628 171h1v1h-1zM900 171h1v1h-1zM111 172h2v1h-2zM394 172h2v1h-2zM628 172h1v1h-1zM901 172h1v1h-1zM111 173h1v1h-1zM395 173h1v1h-1zM628 173h1v1h-1zM901 173h1v1h-1zM110 174h1v1h-1zM396 174h1v1h-1zM628 174h1v1h-1zM901 174h1v1h-1zM110 175h1v1h-1zM396 175h1v1h-1zM627 175h1v1h-1zM901 175h1v1h-1zM109 176h1v1h-1zM397 176h1v1h-1zM627 176h1v1h-1zM902 176h1v1h-1zM109 177h1v1h-1zM397 177h1v1h-1zM627 177h1v1h-1zM902 177h1v1h-1zM108 178h2v1h-2zM397 178h2v1h-2zM627 178h1v1h-1zM902 178h1v1h-1zM108 179h1v1h-1zM398 179h1v1h-1zM627 179h1v1h-1zM902 179h1v1h-1zM107 180h2v1h-2zM398 180h2v1h-2zM627 180h1v1h-1zM902 180h1v1h-1zM107 181h1v1h-1zM399 181h1v1h-1zM627 181h1v1h-1zM902 181h1v1h-1zM106 182h1v1h-1zM400 182h1v1h-1zM627 182h1v1h-1zM902 182h1v1h-1zM106 183h1v1h-1zM400 183h1v1h-1zM627 183h1v1h-1zM903 183h1v1h-1zM106 184h1v1h-1zM400 184h1v1h-1zM627 184h1v1h-1zM903 184h1v1h-1zM105 185h1v1h-1zM401 185h1v1h-1zM627 185h1v1h-1zM903 185h1v1h-1zM105 186h1v1h-1zM401 186h1v1h-1zM627 186h1v1h-1zM903 186h1v1h-1zM104 187h1v1h-1zM402 187h1v1h-1zM627 187h1v1h-1zM903 187h1v1h-1zM104 188h1v1h-1zM402 188h1v1h-1zM627 188h1v1h-1zM903 188h1v1h-1zM103 189h1v1h-1zM403 189h1v1h-1zM627 189h1v1h-1zM903 189h1v1h-1zM103 190h1v1h-1zM403 190h1v1h-1zM627 190h1v1h-1zM903 190h1v1h-1zM103 191h1v1h-1zM403 191h1v1h-1zM627 191h2v1h-2zM903 191h1v1h-1zM102 192h1v1h-1zM404 192h1v1h-1zM628 192h1v1h-1zM903 192h1v1h-1zM102 193h1v1h-1zM404 193h1v1h-1zM628 193h1v1h-1zM903 193h1v1h-1zM102 194h1v1h-1zM404 194h1v1h-1zM628 194h1v1h-1zM902 194h2v1h-2zM101 195h1v1h-1zM405 195h1v1h-1zM628 195h1v1h-1zM902 195h1v1h-1zM101 196h1v1h-1zM405 196h1v1h-1zM628 196h1v1h-1zM902 196h1v1h-1zM100 197h2v1h-2zM405 197h2v1h-2zM628 197h2v1h-2zM902 197h1v1h-1zM100 198h1v1h-1zM406 198h1v1h-1zM629 198h1v1h-1zM902 198h1v1h-1zM100 199h1v1h-1zM406 199h1v1h-1zM629 199h1v1h-1zM902 199h1v1h-1zM100 200h1v1h-1zM406 200h1v1h-1zM629 200h1v1h-1zM901 200h1v1h-1zM99 201h1v1h-1zM407 201h1v1h-1zM629 201h2v1h-2zM901 201h1v1h-1zM99 202h1v1h-1zM407 202h1v1h-1zM630 202h1v1h-1zM901 202h1v1h-1zM99 203h1v1h-1zM407 203h1v1h-1zM630 203h1v1h-1zM900 203h1v1h-1zM99 204h1v1h-1zM407 204h1v1h-1zM630 204h2v1h-2zM900 204h1v1h-1zM98 205h1v1h-1zM408 205h1v1h-1zM631 205h1v1h-1zM900 205h1v1h-1zM98 206h1v1h-1zM408 206h1v1h-1zM631 206h1v1h-1zM899 206h1v1h-1zM98 207h1v1h-1zM408 207h1v1h-1zM632 207h1v1h-1zM899 207h1v1h-1zM98 208h1v1h-1zM408 208h1v1h-1zM632 208h1v1h-1zM898 208h1v1h-1zM97 209h1v1h-1zM409 209h1v1h-1zM632 209h2v1h-2zM898 209h1v1h-1zM97 210h1v1h-1zM409 210h1v1h-1zM633 210h1v1h-1zM897 210h1v1h-1zM97 211h1v1h-1zM409 211h1v1h-1zM633 211h2v1h-2zM896 211h2v1h-2zM97 212h1v1h-1zM409 212h1v1h-1zM634 212h1v1h-1zM896 212h1v1h-1zM96 213h2v1h-2zM409 213h2v1h-2zM635 213h1v1h-1zM895 213h1v1h-1zM96 214h1v1h-1zM410 214h1v1h-1zM635 214h2v1h-2zM894 214h2v1h-2zM96 215h1v1h-1zM410 215h1v1h-1zM636 215h1v1h-1zM893 215h2v1h-2zM96 216h1v1h-1zM410 216h1v1h-1zM637 216h1v1h-1zM892 216h2v1h-2zM96 217h1v1h-1zM410 217h1v1h-1zM638 217h1v1h-1zM892 217h1v1h-1zM96 218h1v1h-1zM410 218h1v1h-1zM638 218h2v1h-2zM891 218h1v1h-1zM95 219h1v1h-1zM411 219h1v1h-1zM639 219h2v1h-2zM890 219h1v1h-1zM95 220h1v1h-1zM411 220h1v1h-1zM640 220h2v1h-2zM888 220h2v1h-2zM95 221h1v1h-1zM411 221h1v1h-1zM641 221h2v1h-2zM887 221h2v1h-2zM95 222h1v1h-1zM411 222h1v1h-1zM642 222h2v1h-2zM886 222h2v1h-2zM95 223h1v1h-1zM411 223h1v1h-1zM643 223h2v1h-2zM884 223h3v1h-3zM95 224h1v1h-1zM411 224h1v1h-1zM645 224h2v1h-2zM883 224h2v1h-2zM95 225h1v1h-1zM411 225h1v1h-1zM646 225h2v1h-2zM881 225h3v1h-3zM95 226h1v1h-1zM411 226h1v1h-1zM648 226h2v1h-2zM880 226h2v1h-2zM95 227h1v1h-1zM411 227h1v1h-1zM649 227h3v1h-3zM878 227h2v1h-2zM94 228h1v1h-1zM412 228h1v1h-1zM651 228h3v1h-3zM876 228h2v1h-2zM94 229h1v1h-1zM412 229h1v1h-1zM653 229h3v1h-3zM874 229h2v1h-2zM94 230h1v1h-1zM412 230h1v1h-1zM656 230h3v1h-3zM871 230h3v1h-3zM94 231h1v1h-1zM412 231h1v1h-1zM658 231h4v1h-4zM868 231h4v1h-4zM94 232h1v1h-1zM412 232h1v1h-1zM661 232h4v1h-4zM865 232h4v1h-4zM94 233h1v1h-1zM412 233h1v1h-1zM664 233h5v1h-5zM861 233h4v1h-4zM94 234h1v1h-1zM412 234h1v1h-1zM668 234h5v1h-5zM856 234h6v1h-6zM94 235h1v1h-1zM412 235h1v1h-1zM673 235h6v1h-6zM849 235h8v1h-8zM94 236h1v1h-1zM412 236h1v1h-1zM679 236h10v1h-10zM837 236h13v1h-13zM94 237h1v1h-1zM412 237h1v1h-1zM688 237h42v1h-42zM803 237h35v1h-35zM94 238h1v1h-1zM412 238h1v1h-1zM730 238h25v1h-25zM778 238h25v1h-25zM94 239h1v1h-1zM412 239h1v1h-1zM755 239h23v1h-23zM94 240h1v1h-1zM412 240h1v1h-1zM94 241h1v1h-1zM412 241h1v1h-1zM94 242h1v1h-1zM412 242h1v1h-1zM94 243h1v1h-1zM412 243h1v1h-1zM94 244h1v1h-1zM412 244h1v1h-1zM94 245h1v1h-1zM412 245h1v1h-1zM94 246h1v1h-1zM412 246h1v1h-1zM94 247h1v1h-1zM412 247h1v1h-1zM94 248h1v1h-1zM412 248h1v1h-1zM94 249h1v1h-1zM412 249h1v1h-1zM94 250h1v1h-1zM412 250h1v1h-1zM95 251h1v1h-1zM411 251h1v1h-1zM95 252h1v1h-1zM411 252h1v1h-1zM95 253h1v1h-1zM411 253h1v1h-1zM95 254h1v1h-1zM411 254h1v1h-1zM95 255h1v1h-1zM411 255h1v1h-1zM95 256h1v1h-1zM411 256h1v1h-1zM95 257h1v1h-1zM411 257h1v1h-1zM95 258h1v1h-1zM411 258h1v1h-1zM95 259h1v1h-1zM411 259h1v1h-1zM96 260h1v1h-1zM410 260h1v1h-1zM96 261h1v1h-1zM410 261h1v1h-1zM96 262h1v1h-1zM410 262h1v1h-1zM96 263h1v1h-1zM410 263h1v1h-1zM96 264h1v1h-1zM410 264h1v1h-1zM96 265h2v1h-2zM409 265h2v1h-2zM97 266h1v1h-1zM409 266h1v1h-1zM97 267h1v1h-1zM409 267h1v1h-1zM97 268h1v1h-1zM409 268h1v1h-1zM97 269h1v1h-1zM409 269h1v1h-1zM98 270h1v1h-1zM408 270h1v1h-1zM98 271h1v1h-1zM408 271h1v1h-1zM98 272h1v1h-1zM408 272h1v1h-1zM98 273h1v1h-1zM408 273h1v1h-1zM99 274h1v1h-1zM407 274h1v1h-1zM99 275h1v1h-1zM407 275h1v1h-1zM99 276h1v1h-1zM407 276h1v1h-1zM99 277h1v1h-1zM407 277h1v1h-1zM100 278h1v1h-1zM406 278h1v1h-1zM100 279h1v1h-1zM406 279h1v1h-1zM100 280h1v1h-1zM406 280h1v1h-1zM100 281h2v1h-2zM405 281h2v1h-2zM101 282h1v1h-1zM405 282h1v1h-1zM101 283h1v1h-1zM405 283h1v1h-1zM102 284h1v1h-1zM404 284h1v1h-1zM102 285h1v1h-1zM404 285h1v1h-1zM102 286h1v1h-1zM404 286h1v1h-1zM103 287h1v1h-1zM403 287h1v1h-1zM103 288h1v1h-1zM403 288h1v1h-1zM103 289h1v1h-1zM403 289h1v1h-1zM104 290h1v1h-1zM402 290h1v1h-1zM104 291h1v1h-1zM402 291h1v1h-1zM105 292h1v1h-1zM401 292h1v1h-1zM105 293h1v1h-1zM401 293h1v1h-1zM106 294h1v1h-1zM400 294h1v1h-1zM106 295h1v1h-1zM400 295h1v1h-1zM106 296h1v1h-1zM400 296h1v1h-1zM107 297h1v1h-1zM399 297h1v1h-1zM107 298h2v1h-2zM398 298h2v1h-2zM108 299h1v1h-1zM398 299h1v1h-1zM108 300h2v1h-2zM397 300h2v1h-2zM109 301h1v1h-1zM397 301h1v1h-1zM109 302h1v1h-1zM397 302h1v1h-1zM110 303h1v1h-1zM396 303h1v1h-1zM110 304h1v1h-1zM396 304h1v1h-1zM111 305h1v1h-1zM395 305h1v1h-1zM111 306h2v1h-2zM394 306h2v1h-2zM112 307h1v1h-1zM394 307h1v1h-1zM112 308h2v1h-2zM393 308h2v1h-2zM113 309h1v1h-1zM393 309h1v1h-1zM114 310h1v1h-1zM392 310h1v1h-1zM114 311h1v1h-1zM392 311h1v1h-1zM115 312h1v1h-1zM391 312h1v1h-1zM116 313h1v1h-1zM390 313h1v1h-1zM116 314h1v1h-1zM390 314h1v1h-1zM117 315h1v1h-1zM389 315h1v1h-1zM117 316h2v1h-2zM388 316h2v1h-2zM118 317h2v1h-2zM387 317h2v1h-2zM119 318h1v1h-1zM387 318h1v1h-1zM120 319h1v1h-1zM386 319h1v1h-1zM120 320h2v1h-2zM385 320h2v1h-2zM121 321h1v1h-1zM385 321h1v1h-1zM122 322h1v1h-1zM384 322h1v1h-1zM123 323h1v1h-1zM383 323h1v1h-1zM123 324h2v1h-2zM382 324h2v1h-2zM124 325h1v1h-1zM382 325h1v1h-1zM125 326h1v1h-1zM381 326h1v1h-1zM126 327h1v1h-1zM380 327h1v1h-1zM126 328h2v1h-2zM379 328h2v1h-2zM127 329h2v1h-2zM378 329h2v1h-2zM128 330h2v1h-2zM377 330h2v1h-2zM129 331h2v1h-2zM376 331h2v1h-2zM130 332h1v1h-1zM376 332h1v1h-1zM131 333h1v1h-1zM375 333h1v1h-1zM132 334h1v1h-1zM374 334h1v1h-1zM133 335h1v1h-1zM373 335h1v1h-1zM134 336h1v1h-1zM372 336h1v1h-1zM135 337h1v1h-1zM371 337h1v1h-1zM136 338h2v1h-2zM369 338h2v1h-2zM137 339h1v1h-1zM369 339h1v1h-1zM138 340h1v1h-1zM368 340h1v1h-1zM139 341h1v1h-1zM367 341h1v1h-1zM140 342h1v1h-1zM366 342h1v1h-1zM141 343h2v1h-2zM364 343h2v1h-2zM142 344h2v1h-2zM363 344h2v1h-2zM143 345h2v1h-2zM362 345h2v1h-2zM144 346h2v1h-2zM361 346h2v1h-2zM145 347h3v1h-3zM359 347h3v1h-3zM147 348h2v1h-2zM358 348h2v1h-2zM148 349h2v1h-2zM357 349h2v1h-2zM150 350h1v1h-1zM356 350h1v1h-1zM151 351h2v1h-2zM354 351h2v1h-2zM152 352h2v1h-2zM353 352h2v1h-2zM153 353h2v1h-2zM352 353h2v1h-2zM155 354h2v1h-2zM350 354h2v1h-2zM157 355h1v1h-1zM349 355h1v1h-1zM158 356h2v1h-2zM347 356h2v1h-2zM159 357h3v1h-3zM345 357h3v1h-3zM161 358h2v1h-2zM344 358h2v1h-2zM163 359h2v1h-2zM342 359h2v1h-2zM164 360h3v1h-3zM340 360h3v1h-3zM166 361h2v1h-2zM339 361h2v1h-2zM168 362h2v1h-2zM337 362h2v1h-2zM170 363h2v1h-2zM335 363h2v1h-2zM171 364h2v1h-2zM334 364h2v1h-2zM173 365h3v1h-3zM331 365h3v1h-3zM175 366h3v1h-3zM329 366h3v1h-3zM177 367h3v1h-3zM327 367h3v1h-3zM179 368h3v1h-3zM325 368h3v1h-3zM182 369h3v1h-3zM322 369h3v1h-3zM184 370h3v1h-3zM320 370h3v1h-3zM187 371h2v1h-2zM318 371h2v1h-2zM189 372h3v1h-3zM315 372h3v1h-3zM192 373h3v1h-3zM312 373h3v1h-3zM195 374h3v1h-3zM309 374h3v1h-3zM198 375h4v1h-4zM305 375h4v1h-4zM201 376h4v1h-4zM302 376h4v1h-4zM204 377h4v1h-4zM299 377h4v1h-4zM208 378h5v1h-5zM294 378h5v1h-5zM212 379h6v1h-6zM289 379h6v1h-6zM217 380h6v1h-6zM284 380h6v1h-6zM223 381h7v1h-7zM277 381h7v1h-7zM230 382h10v1h-10zM267 382h10v1h-10zM240 383h27v1h-27z"/>
<path fill="#ff0000" d="M754 180h20v1h-20zM749 181h6v1h-6zM774 181h5v1h-5zM746 182h4v1h-4zM778 182h4v1h-4zM743 183h4v1h-4zM781 183h3v1h-3zM741 184h3v1h-3zM784 184h3v1h-3zM739 185h3v1h-3zM786 185h3v1h-3zM737 186h3v1h-3zM788 186h3v1h-3zM735 187h3v1h-3zM790 187h3v1h-3zM733 188h3v1h-3zM792 188h2v1h-2zM244 189h20v1h-20zM732 189h2v1h-2zM794 189h2v1h-2zM238 190h6v1h-6zM263 190h7v1h-7zM731 190h2v1h-2zM795 190h2v1h-2zM234 191h4v1h-4zM269 191h5v1h-5zM729 191h2v1h-2zM797 191h2v1h-2zM230 192h4v1h-4zM273 192h4v1h-4zM728 192h2v1h-2zM798 192h2v1h-2zM228 193h3v1h-3zM276 193h4v1h-4zM727 193h2v1h-2zM799 193h2v1h-2zM225 194h4v1h-4zM279 194h3v1h-3zM726 194h2v1h-2zM800 194h3v1h-3zM223 195h3v1h-3zM281 195h3v1h-3zM725 195h2v1h-2zM802 195h2v1h-2zM221 196h3v1h-3zM283 196h3v1h-3zM724 196h2v1h-2zM803 196h2v1h-2zM220 197h2v1h-2zM286 197h2v1h-2zM723 197h2v1h-2zM804 197h2v1h-2zM218 198h2v1h-2zM287 198h3v1h-3zM722 198h2v1h-2zM805 198h2v1h-2zM216 199h3v1h-3zM289 199h2v1h-2zM722 199h1v1h-1zM806 199h2v1h-2zM215 200h2v1h-2zM290 200h3v1h-3zM721 200h1v1h-1zM807 200h2v1h-2zM214 201h2v1h-2zM292 201h2v1h-2zM720 201h2v1h-2zM808 201h1v1h-1zM213 202h2v1h-2zM293 202h2v1h-2zM719 202h2v1h-2zM808 202h2v1h-2zM212 203h1v1h-1zM294 203h2v1h-2zM719 203h1v1h-1zM809 203h2v1h-2zM210 204h2v1h-2zM295 204h2v1h-2zM718 204h2v1h-2zM810 204h1v1h-1zM209 205h2v1h-2zM296 205h2v1h-2zM718 205h1v1h-1zM811 205h1v1h-1zM208 206h2v1h-2zM297 206h2v1h-2zM717 206h2v1h-2zM811 206h2v1h-2zM208 207h1v1h-1zM298 207h2v1h-2zM717 207h1v1h-1zM812 207h1v1h-1zM207 208h1v1h-1zM299 208h2v1h-2zM716 208h2v1h-2zM812 208h2v1h-2zM206 209h1v1h-1zM300 209h2v1h-2zM716 209h1v1h-1zM813 209h1v1h-1zM205 210h2v1h-2zM301 210h2v1h-2zM716 210h1v1h-1zM813 210h2v1h-2zM204 211h2v1h-2zM302 211h1v1h-1zM715 211h2v1h-2zM814 211h1v1h-1zM204 212h1v1h-1zM302 212h2v1h-2zM715 212h1v1h-1zM814 212h1v1h-1zM203 213h1v1h-1zM303 213h2v1h-2zM715 213h1v1h-1zM814 213h2v1h-2zM202 214h2v1h-2zM304 214h1v1h-1zM715 214h1v1h-1zM815 214h1v1h-1zM202 215h1v1h-1zM304 215h2v1h-2zM714 215h2v1h-2zM815 215h1v1h-1zM201 216h2v1h-2zM305 216h1v1h-1zM714 216h1v1h-1zM815 216h1v1h-1zM201 217h1v1h-1zM306 217h1v1h-1zM714 217h1v1h-1zM815 217h1v1h-1zM200 218h2v1h-2zM306 218h1v1h-1zM714 218h1v1h-1zM815 218h1v1h-1zM200 219h1v1h-1zM307 219h1v1h-1zM714 219h1v1h-1zM815 219h1v1h-1zM199 220h2v1h-2zM307 220h1v1h-1zM714 220h1v1h-1zM815 220h1v1h-1zM199 221h1v1h-1zM307 221h2v1h-2zM714 221h1v1h-1zM815 221h1v1h-1zM198 222h2v1h-2zM308 222h1v1h-1zM714 222h1v1h-1zM815 222h1v1h-1zM198 223h1v1h-1zM308 223h2v1h-2zM714 223h2v1h-2zM815 223h1v1h-1zM198 224h1v1h-1zM309 224h1v1h-1zM715 224h1v1h-1zM815 224h1v1h-1zM197 225h2v1h-2zM309 225h1v1h-1zM715 225h1v1h-1zM815 225h1v1h-1zM197 226h1v1h-1zM309 226h2v1h-2zM715 226h2v1h-2zM814 226h2v1h-2zM197 227h1v1h-1zM310 227h1v1h-1zM716 227h1v1h-1zM814 227h1v1h-1zM197 228h1v1h-1zM310 228h1v1h-1zM716 228h2v1h-2zM813 228h2v1h-2zM196 229h2v1h-2zM310 229h1v1h-1zM717 229h2v1h-2zM813 229h1v1h-1zM196 230h1v1h-1zM310 230h1v1h-1zM718 230h2v1h-2zM812 230h2v1h-2zM196 231h1v1h-1zM310 231h2v1h-2zM719 231h2v1h-2zM812 231h1v1h-1zM196 232h1v1h-1zM311 232h1v1h-1zM720 232h2v1h-2zM811 232h1v1h-1zM196 233h1v1h-1zM311 233h1v1h-1zM721 233h2v1h-2zM810 233h2v1h-2zM196 234h1v1h-1zM311 234h1v1h-1zM722 234h3v1h-3zM808 234h2v1h-2zM195 235h2v1h-2zM311 235h1v1h-1zM724 235h3v1h-3zM807 235h2v1h-2zM195 236h1v1h-1zM311 236h1v1h-1zM726 236h3v1h-3zM805 236h3v1h-3zM195 237h1v1h-1zM311 237h1v1h-1zM728 237h4v1h-4zM802 237h4v1h-4zM195 238h1v1h-1zM311 238h1v1h-1zM731 238h6v1h-6zM798 238h5v1h-5zM195 239h1v1h-1zM311 239h1v1h-1zM736 239h63v1h-63zM195 240h1v1h-1zM311 240h1v1h-1zM195 241h1v1h-1zM311 241h1v1h-1zM195 242h1v1h-1zM311 242h1v1h-1zM195 243h1v1h-1zM311 243h1v1h-1zM195 244h2v1h-2zM311 244h1v1h-1zM196 245h1v1h-1zM311 245h1v1h-1zM196 246h1v1h-1zM311 246h1v1h-1zM196 247h1v1h-1zM311 247h1v1h-1zM196 248h1v1h-1zM310 248h2v1h-2zM196 249h1v1h-1zM310 249h1v1h-1zM196 250h2v1h-2zM310 250h1v1h-1zM197 251h1v1h-1zM310 251h1v1h-1zM197 252h1v1h-1zM310 252h1v1h-1zM197 253h1v1h-1zM309 253h1v1h-1zM197 254h2v1h-2zM309 254h1v1h-1zM198 255h1v1h-1zM309 255h1v1h-1zM198 256h1v1h-1zM308 256h1v1h-1zM199 257h1v1h-1zM308 257h1v1h-1zM199 258h1v1h-1zM307 258h2v1h-2zM199 259h2v1h-2zM307 259h1v1h-1zM200 260h1v1h-1zM306 260h2v1h-2zM200 261h2v1h-2zM306 261h1v1h-1zM201 262h1v1h-1zM305 262h2v1h-2zM201 263h2v1h-2zM305 263h1v1h-1zM202 264h1v1h-1zM304 264h2v1h-2zM202 265h2v1h-2zM304 265h1v1h-1zM203 266h2v1h-2zM303 266h2v1h-2zM204 267h1v1h-1zM302 267h2v1h-2zM204 268h2v1h-2zM302 268h1v1h-1zM205 269h2v1h-2zM301 269h1v1h-1zM206 270h2v1h-2zM300 270h2v1h-2zM207 271h2v1h-2zM299 271h2v1h-2zM208 272h1v1h-1zM298 272h2v1h-2zM209 273h1v1h-1zM297 273h2v1h-2zM210 274h1v1h-1zM296 274h2v1h-2zM211 275h2v1h-2zM295 275h2v1h-2zM212 276h2v1h-2zM294 276h2v1h-2zM213 277h2v1h-2zM293 277h2v1h-2zM214 278h2v1h-2zM291 278h3v1h-3zM215 279h3v1h-3zM290 279h2v1h-2zM217 280h2v1h-2zM288 280h3v1h-3zM218 281h3v1h-3zM287 281h2v1h-2zM220 282h2v1h-2zM285 282h3v1h-3zM222 283h2v1h-2zM283 283h3v1h-3zM224 284h3v1h-3zM281 284h3v1h-3zM226 285h3v1h-3zM279 285h3v1h-3zM228 286h4v1h-4zM276 286h3v1h-3zM231 287h4v1h-4zM272 287h5v1h-5zM234 288h6v1h-6zM268 288h5v1h-5zM239 289h7v1h-7zM261 289h8v1h-8zM245 290h17v1h-17z"/>
</g>
<text x="541" y="268" font-family="Liberation Sans, Arial, sans-serif" font-size="20.25" fill="#808080">-2.76(dBi) = 0dB</text>
<text x="938" y="266" font-family="Liberation Sans, Arial, sans-serif" font-size="19" font-weight="bold" fill="#808080">ok1ufc</text>
</svg>
<div class="lg" style="left:468px;top:337px;color:#0000ff">1. MLA - V (obvod 15m)</div>
<div class="lg" style="left:468px;top:359px;color:#00ff00">2. Referenční kruh průměr D = 2000 mm, d = 16 mm, Cu</div>
<div class="lg" style="left:468px;top:381px;color:#008000">3. MLA - V mini (obvod cca 10 m)</div>
<div class="lg" style="left:468px;top:403px;color:#ff0000">4. Referenční dvojitý závit, průměr D = 330 mm, d= 16 mm</div>
<div class="lg" style="left:468px;top:445px;color:#000000;font-size:19.52px">Vyzařování různých MLA smyček na kmitočtu 3 576 kHz</div>
<div id="tb">
<div style="left:0;top:481px;width:1008px;height:1px;background:#000"></div>
<div style="left:0;top:482px;width:1008px;height:147px;background:#808080"></div>
<div style="left:4px;top:487px;width:1000px;height:1px;background:#404040"></div>
<div style="left:4px;top:488px;width:1000px;height:27px;background:#d4d0c8"></div>
<div style="left:4px;top:488px;width:1000px;height:1px;background:#fff"></div>
<div style="left:52px;top:516px;width:952px;height:109px;background:#fff"></div>
<div style="left:4px;top:516px;width:47px;height:27px;background:#d4d0c8"></div>
<div style="left:4px;top:516px;width:47px;height:1px;background:#fff"></div>
<div style="left:4px;top:516px;width:1px;height:27px;background:#fff"></div>
<div style="left:4px;top:544px;width:47px;height:27px;background:#d4d0c8"></div>
<div style="left:4px;top:544px;width:47px;height:1px;background:#fff"></div>
<div style="left:4px;top:544px;width:1px;height:27px;background:#fff"></div>
<div style="left:4px;top:572px;width:47px;height:27px;background:#d4d0c8"></div>
<div style="left:4px;top:572px;width:47px;height:1px;background:#fff"></div>
<div style="left:4px;top:572px;width:1px;height:27px;background:#fff"></div>
<div style="left:4px;top:600px;width:47px;height:25px;background:#d4d0c8"></div>
<div style="left:4px;top:600px;width:47px;height:1px;background:#fff"></div>
<div style="left:4px;top:600px;width:1px;height:25px;background:#fff"></div>
<div style="left:4px;top:488px;width:1px;height:27px;background:#fff"></div>
<div style="left:4px;top:515px;width:1000px;height:1px;background:#000"></div>
<div style="left:4px;top:543px;width:47px;height:1px;background:#000"></div>
<div style="left:52px;top:543px;width:952px;height:1px;background:#c0c0c0"></div>
<div style="left:4px;top:571px;width:47px;height:1px;background:#000"></div>
<div style="left:52px;top:571px;width:952px;height:1px;background:#c0c0c0"></div>
<div style="left:4px;top:599px;width:47px;height:1px;background:#000"></div>
<div style="left:52px;top:599px;width:952px;height:1px;background:#c0c0c0"></div>
<div style="left:51px;top:487px;width:1px;height:28px;background:#000"></div>
<div style="left:52px;top:488px;width:1px;height:27px;background:#fff"></div>
<div style="left:51px;top:516px;width:1px;height:109px;background:#000"></div>
<div style="left:135px;top:487px;width:1px;height:28px;background:#000"></div>
<div style="left:136px;top:488px;width:1px;height:27px;background:#fff"></div>
<div style="left:135px;top:516px;width:1px;height:109px;background:#c0c0c0"></div>
<div style="left:216px;top:487px;width:1px;height:28px;background:#000"></div>
<div style="left:217px;top:488px;width:1px;height:27px;background:#fff"></div>
<div style="left:216px;top:516px;width:1px;height:109px;background:#c0c0c0"></div>
<div style="left:297px;top:487px;width:1px;height:28px;background:#000"></div>
<div style="left:298px;top:488px;width:1px;height:27px;background:#fff"></div>
<div style="left:297px;top:516px;width:1px;height:109px;background:#c0c0c0"></div>
<div style="left:364px;top:487px;width:1px;height:28px;background:#000"></div>
<div style="left:365px;top:488px;width:1px;height:27px;background:#fff"></div>
<div style="left:364px;top:516px;width:1px;height:109px;background:#c0c0c0"></div>
<div style="left:429px;top:487px;width:1px;height:28px;background:#000"></div>
<div style="left:430px;top:488px;width:1px;height:27px;background:#fff"></div>
<div style="left:429px;top:516px;width:1px;height:109px;background:#c0c0c0"></div>
<div style="left:494px;top:487px;width:1px;height:28px;background:#000"></div>
<div style="left:495px;top:488px;width:1px;height:27px;background:#fff"></div>
<div style="left:494px;top:516px;width:1px;height:109px;background:#c0c0c0"></div>
<div style="left:559px;top:487px;width:1px;height:28px;background:#000"></div>
<div style="left:560px;top:488px;width:1px;height:27px;background:#fff"></div>
<div style="left:559px;top:516px;width:1px;height:109px;background:#c0c0c0"></div>
<div style="left:622px;top:487px;width:1px;height:28px;background:#000"></div>
<div style="left:623px;top:488px;width:1px;height:27px;background:#fff"></div>
<div style="left:622px;top:516px;width:1px;height:109px;background:#c0c0c0"></div>
<div style="left:706px;top:487px;width:1px;height:28px;background:#000"></div>
<div style="left:707px;top:488px;width:1px;height:27px;background:#fff"></div>
<div style="left:706px;top:516px;width:1px;height:109px;background:#c0c0c0"></div>
<div style="left:783px;top:487px;width:1px;height:28px;background:#000"></div>
<div style="left:784px;top:488px;width:1px;height:27px;background:#fff"></div>
<div style="left:783px;top:516px;width:1px;height:109px;background:#c0c0c0"></div>
<div style="left:851px;top:487px;width:1px;height:28px;background:#000"></div>
<div style="left:852px;top:488px;width:1px;height:27px;background:#fff"></div>
<div style="left:851px;top:516px;width:1px;height:109px;background:#c0c0c0"></div>
<div style="left:948px;top:487px;width:1px;height:28px;background:#000"></div>
<div style="left:949px;top:488px;width:1px;height:27px;background:#fff"></div>
<div style="left:948px;top:516px;width:1px;height:30px;background:#c0c0c0"></div>
<div style="left:948px;top:571px;width:1px;height:3px;background:#c0c0c0"></div>
<div style="left:948px;top:599px;width:1px;height:3px;background:#c0c0c0"></div>
<div class="t" style="left:3px;top:489px;width:48px;color:#000">No.</div>
<div class="t" style="left:56px;top:489px;width:79px;color:#000">F (MHz)</div>
<div class="t" style="left:140px;top:489px;width:76px;color:#000">R</div>
<div class="t" style="left:221px;top:489px;width:76px;color:#000">jX</div>
<div class="t" style="left:302px;top:489px;width:62px;color:#000">SWR</div>
<div class="t" style="left:369px;top:489px;width:60px;color:#000">Gh</div>
<div class="t" style="left:434px;top:489px;width:60px;color:#000">Ga</div>
<div class="t" style="left:499px;top:489px;width:60px;color:#000">F/B</div>
<div class="t" style="left:564px;top:489px;width:58px;color:#000">Elev.</div>
<div class="t" style="left:627px;top:489px;width:79px;color:#000">GND</div>
<div class="t" style="left:711px;top:489px;width:72px;color:#000">Height</div>
<div class="t" style="left:788px;top:489px;width:63px;color:#000">Pol.</div>
<div class="t" style="left:856px;top:489px;width:92px;color:#000">File</div>
<div class="t" style="left:953px;top:489px;width:51px;color:#000">name</div>
<div class="t" style="left:3px;top:517px;width:48px;color:#0000ff">1</div>
<div class="t" style="left:56px;top:517px;width:79px;color:#0000ff">3.576</div>
<div class="t" style="left:140px;top:517px;width:76px;color:#0000ff">0.921</div>
<div class="t" style="left:221px;top:517px;width:76px;color:#0000ff">0.113</div>
<div class="t" style="left:369px;top:517px;width:60px;color:#0000ff">---</div>
<div class="t" style="left:434px;top:517px;width:60px;color:#0000ff">-2.76</div>
<div class="t" style="left:499px;top:517px;width:60px;color:#0000ff">-0.38</div>
<div class="t" style="left:564px;top:517px;width:58px;color:#0000ff">89.8</div>
<div class="t" style="left:627px;top:517px;width:79px;color:#0000ff">Real</div>
<div class="t" style="left:711px;top:517px;width:72px;color:#0000ff">3.0</div>
<div class="t" style="left:788px;top:517px;width:63px;color:#0000ff">V</div>
<div class="t" style="left:856px;top:517px;width:93px;color:#0000ff">this</div>
<div class="t" style="left:3px;top:545px;width:48px;color:#80ff00">2</div>
<div class="t" style="left:56px;top:545px;width:79px;color:#80ff00">3.576</div>
<div class="t" style="left:140px;top:545px;width:76px;color:#80ff00">0.102</div>
<div class="t" style="left:221px;top:545px;width:76px;color:#80ff00">-0.001</div>
<div class="t" style="left:369px;top:545px;width:60px;color:#80ff00">---</div>
<div class="t" style="left:434px;top:545px;width:60px;color:#80ff00">-6.57</div>
<div class="t" style="left:499px;top:545px;width:60px;color:#80ff00">0.0</div>
<div class="t" style="left:564px;top:545px;width:58px;color:#80ff00">53.2</div>
<div class="t" style="left:627px;top:545px;width:79px;color:#80ff00">Real</div>
<div class="t" style="left:711px;top:545px;width:72px;color:#80ff00">3.0</div>
<div class="t" style="left:788px;top:545px;width:63px;color:#80ff00">V</div>
<div class="t" style="left:856px;top:545px;width:93px;color:#80ff00">C:\Anteny_</div>
<div class="t" style="left:3px;top:573px;width:48px;color:#008000">3</div>
<div class="t" style="left:56px;top:573px;width:79px;color:#008000">3.576</div>
<div class="t" style="left:140px;top:573px;width:76px;color:#008000">0.818</div>
<div class="t" style="left:221px;top:573px;width:76px;color:#008000">-0.064</div>
<div class="t" style="left:369px;top:573px;width:60px;color:#008000">---</div>
<div class="t" style="left:434px;top:573px;width:60px;color:#008000">-7.9</div>
<div class="t" style="left:499px;top:573px;width:60px;color:#008000">-0.37</div>
<div class="t" style="left:564px;top:573px;width:58px;color:#008000">89.9</div>
<div class="t" style="left:627px;top:573px;width:79px;color:#008000">Real</div>
<div class="t" style="left:711px;top:573px;width:72px;color:#008000">3.0</div>
<div class="t" style="left:788px;top:573px;width:63px;color:#008000">V</div>
<div class="t" style="left:856px;top:573px;width:93px;color:#008000">C:\Anteny_</div>
<div class="t" style="left:3px;top:601px;width:48px;color:#ff0000">4</div>
<div class="t" style="left:56px;top:601px;width:79px;color:#ff0000">3.576</div>
<div class="t" style="left:140px;top:601px;width:76px;color:#ff0000">0.031</div>
<div class="t" style="left:221px;top:601px;width:76px;color:#ff0000">-0.001</div>
<div class="t" style="left:369px;top:601px;width:60px;color:#ff0000">---</div>
<div class="t" style="left:434px;top:601px;width:60px;color:#ff0000">-25.75</div>
<div class="t" style="left:499px;top:601px;width:60px;color:#ff0000">-0.18</div>
<div class="t" style="left:564px;top:601px;width:58px;color:#ff0000">90.0</div>
<div class="t" style="left:627px;top:601px;width:79px;color:#ff0000">Real</div>
<div class="t" style="left:711px;top:601px;width:72px;color:#ff0000">3.0</div>
<div class="t" style="left:788px;top:601px;width:63px;color:#ff0000">V</div>
<div class="t" style="left:856px;top:601px;width:93px;color:#ff0000">C:\Anteny_</div>
</div>
</body></html>
